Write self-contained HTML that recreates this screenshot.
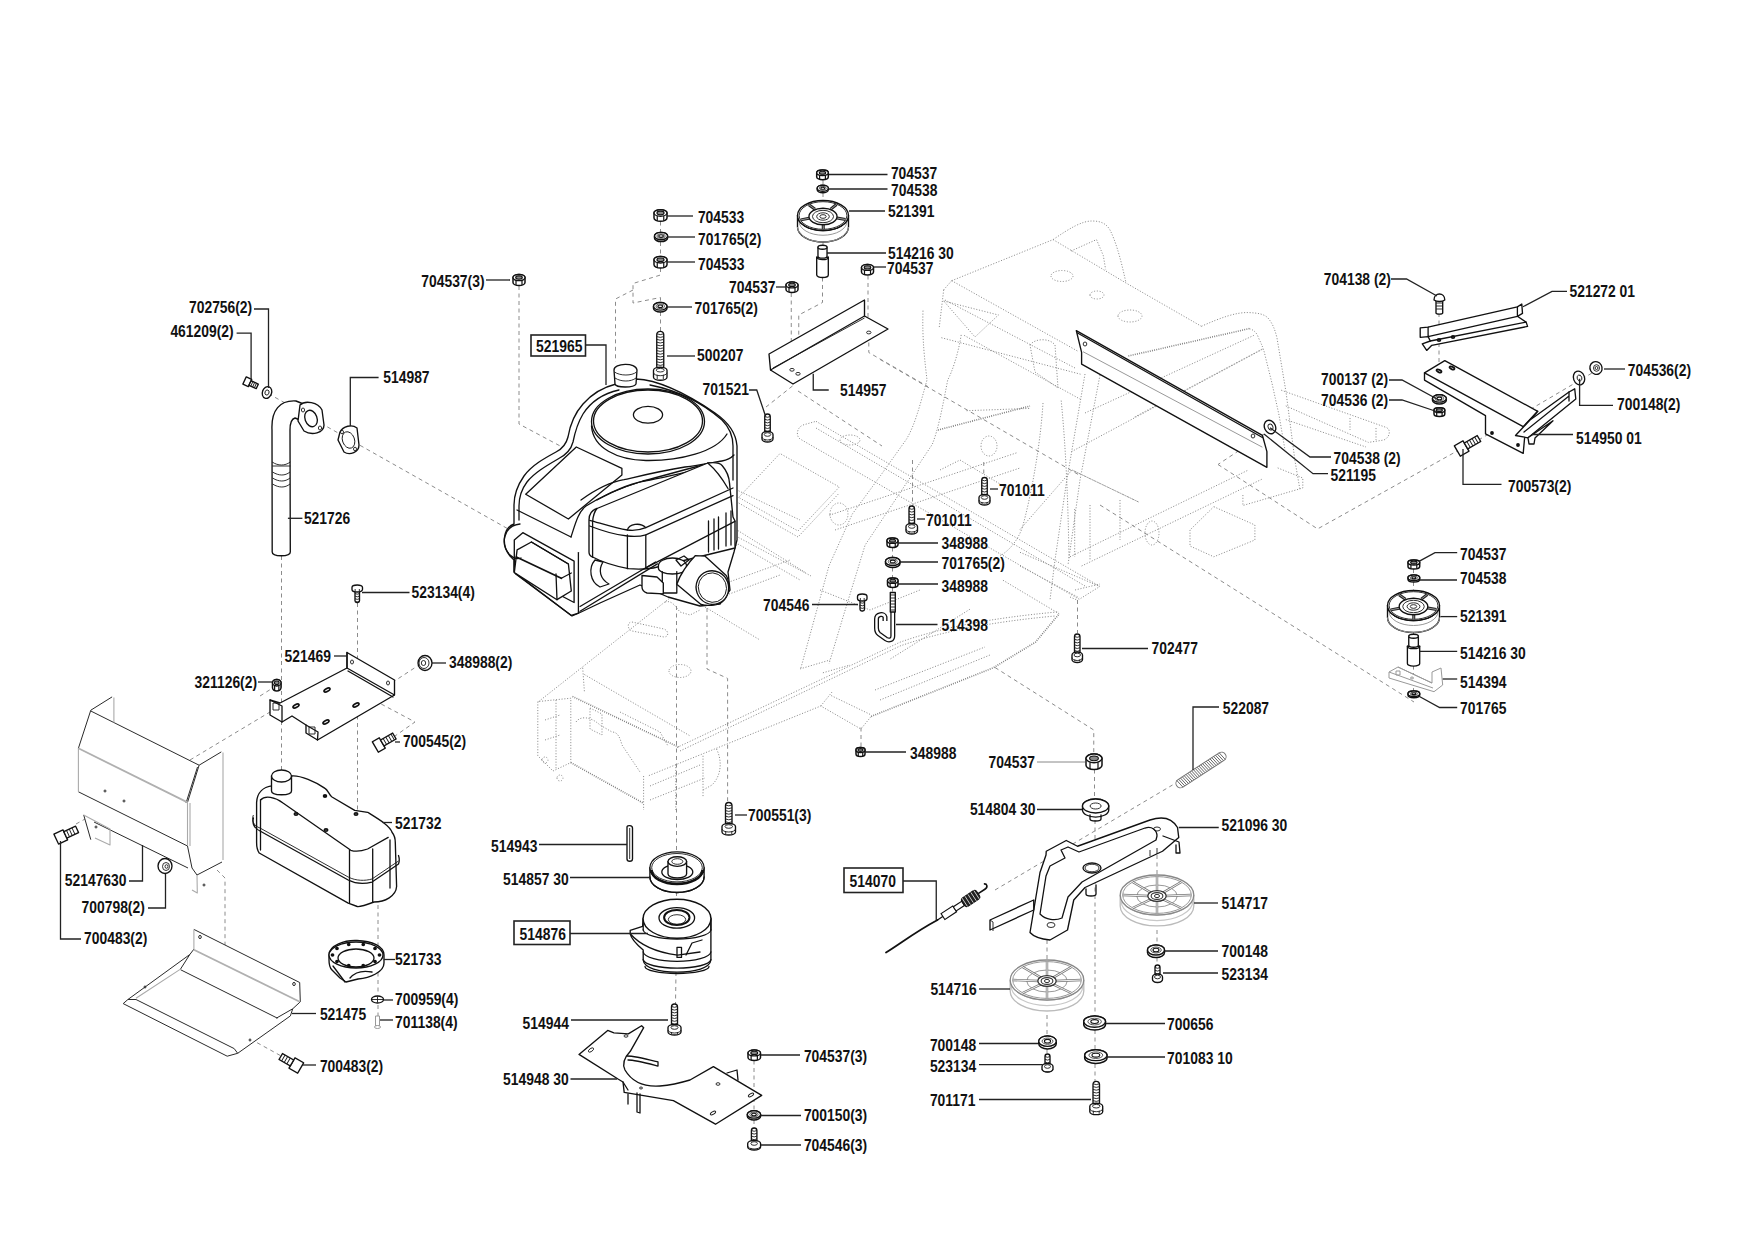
<!DOCTYPE html>
<html><head><meta charset="utf-8"><title>Parts diagram</title>
<style>
html,body{margin:0;padding:0;background:#fff;}
svg{display:block}
text{font-family:"Liberation Sans",sans-serif;font-weight:bold;font-size:16.8px;fill:#111;}
.ld{fill:none;stroke:#222;stroke-width:1.3;}
.lg{fill:none;stroke:#888;stroke-width:1;}
.ds{fill:none;stroke:#8c8c8c;stroke-width:1;stroke-dasharray:4 3.5;}
.fr{fill:none;stroke:#8e8e8e;stroke-width:1;stroke-dasharray:1.1 1.7;}
.frh{fill:none;stroke:#7a7a7a;stroke-width:1.6;stroke-dasharray:0.9 1.3;}
.fr2{fill:none;stroke:#c4c4c4;stroke-width:1;stroke-dasharray:1.5 1.5;}
.bx{fill:none;stroke:#222;stroke-width:1.6;}
.pt{fill:#fff;stroke:#111;stroke-width:1.35;stroke-linejoin:round;}
.pn{fill:none;stroke:#111;stroke-width:1.3;stroke-linejoin:round;stroke-linecap:round;}
.pk{fill:none;stroke:#111;stroke-width:1.8;stroke-linejoin:round;stroke-linecap:round;}
.th{fill:none;stroke:#1a1a1a;stroke-width:0.9;}
.tl{fill:none;stroke:#555;stroke-width:0.8;}
.gy{fill:#fff;stroke:#999;stroke-width:1;}
.hsf{fill:#fff;stroke:none;}
.hs{fill:none;stroke:#2a2a2a;stroke-width:1;}
.hg{fill:none;stroke:#b0b0b0;stroke-width:1.8;}
.hl{fill:none;stroke:#aaa;stroke-width:1.1;}
.gn{fill:none;stroke:#999;stroke-width:1;}
</style></head><body>
<svg width="1754" height="1240" viewBox="0 0 1754 1240">

<rect width="1754" height="1240" fill="#fff"/>
<g>
<path d="M951.7,280.7 L1053.1,239.6" class="fr"/>
<path d="M1053.1,239.6 C1070,228 1082,221 1092,221 C1100,221 1106,223 1110,230 C1115,240 1120,255 1126,283" class="fr"/>
<path d="M1071,251 L1096.5,239.6 L1103.3,255.6 L1105.6,269.3" class="fr"/>
<path d="M1053.1,239.6 L1126,283 L1201.4,326.3" class="fr"/>
<path d="M951.7,280.7 L1078.2,351.4" class="fr"/>
<path d="M943.7,289.8 L951.7,280.7 M943.7,289.8 L939.1,328.6" class="fr"/>
<path d="M941.4,337.7 L1080.5,374.2" class="fr"/>
<path d="M964.2,335.4 L1080.5,399.3" class="fr"/>
<path d="M945,300 L1075,368" class="fr"/>
<path d="M1062,276 m-11,0 a11,5.5 0 1 0 22,0 a11,5.5 0 1 0 -22,0" class="fr"/>
<path d="M1097,295 m-7,0 a7,4 0 1 0 14,0 a7,4 0 1 0 -14,0" class="fr"/>
<path d="M1130,316 m-12,0 a12,6 0 1 0 24,0 a12,6 0 1 0 -24,0" class="fr"/>
<path d="M1201.4,326.3 C1220,318 1236,312 1249,312.6 C1258,313 1264,314 1268,318 C1273,324 1275,330 1277,338 L1286,392 L1295,461 L1300,490" class="fr"/>
<path d="M1128.4,356 L1249.3,328.6" class="frh"/>
<path d="M1249.3,328.6 C1254,330 1257,333 1258.4,337.7 C1262,345 1264,350 1265.2,356 L1272,383.3 L1279,415 L1285,450" class="fr"/>
<path d="M1085,413 L1253.8,335.4" class="fr"/>
<path d="M1071.4,451.7 L1263,349" class="fr"/>
<path d="M1261.7,349.3 L1133.9,417.4" class="fr"/>
<path d="M938,430 L1030,406" class="frh"/>
<path d="M1242.9,495 L1242.9,505.5 L1277.7,495.3" class="fr"/>
<path d="M1281.2,390.2 L1386.6,427.6 C1391,430 1390,437 1384,440 L1368.4,442.4 M1285.8,405.9 L1368.4,442.4 M1285.8,419.6 L1366,447 M1376,428 L1376,440 M1350,418 L1350,430" class="fr"/>
<path d="M943.7,301 L998.4,315 L975,337 Z" class="fr"/>
<path d="M1030,345 C1035,338 1050,338 1055,345 L1058,388 L1035,372 Z" class="fr"/>
<path d="M923,310.6 C922,340 925,362 927,380 C920,405 915,425 906.4,439.3 L880.6,475.5 L852.2,514.2 L829,565.8 L800.6,669" class="fr"/>
<path d="M961.2,334.9 C958,355 952,372 947.7,380 C942,410 938,430 932.2,444.5 L901.2,491 L865.1,545.1 L844.5,612.2 L829,663.8" class="fr"/>
<path d="M738.7,497.4 L780,453.5 L839.3,487 L798,531 Z" class="fr"/>
<path d="M738.7,503 L798,537 L839.3,493" class="fr"/>
<path d="M1061.2,400.6 C1066,450 1068,500 1069,558" class="fr"/>
<path d="M1043,403 C1040,450 1030,500 1022.5,527 C1018,540 1010,550 1000,556" class="fr"/>
<path d="M839,514 m-9,0 a9,11 0 1 0 18,0 a9,11 0 1 0 -18,0" class="fr"/>
<path d="M733.5,534.8 L811,576 M705,607 L760,640" class="fr"/>
<path d="M733.5,488.4 L800,520" class="fr"/>
<path d="M1085,374 L1066.8,480 L1055,560 L1050,600" class="fr"/>
<path d="M1100,375 L1080,480 L1068,565" class="fr"/>
<path d="M829.4,515.2 L1016.7,452.8" class="fr"/>
<path d="M835,530 L1020,468" class="fr"/>
<path d="M966.5,410.7 L1030.3,408.4" class="fr"/>
<path d="M989,446 m-8,0 a8,10 0 1 0 16,0 a8,10 0 1 0 -16,0" class="fr"/>
<path d="M816,421.3 L1099.9,586.4 L1079.3,599.3 L800.6,439.3 C796,437 796,428 803,425 L816,421.3" class="fr"/>
<path d="M816,428 L1085,586" class="fr"/>
<path d="M1075,590 L1100,584 M1070,597 L1077,600" class="fr"/>
<path d="M1070,556.8 L1248,470.2" class="fr"/>
<path d="M1081.6,566 L1261.7,479.3" class="fr"/>
<path d="M1020,529.5 L1072,470 L1138.6,502" class="fr"/>
<path d="M1072.5,470.2 L1138.6,502" class="fr"/>
<path d="M1152,533 m-7,0 a7,12 0 1 0 14,0 a7,12 0 1 0 -14,0" class="fr"/>
<path d="M1213.8,506.7 L1254.9,525 L1254.9,540 L1213.8,556.8 L1190,546 L1190,530 Z" class="fr"/>
<path d="M1277.7,467.9 L1302.8,478 L1302.8,488 L1277.7,495.3" class="fr"/>
<path d="M1020,552.3 L1099.8,586.5 M1020,566 L1079.3,597.9" class="fr"/>
<path d="M1074.7,509 L1074.7,557" class="fr"/>
<path d="M1090,505 L1090,560 M1120,500 L1120,540" class="fr"/>
<path d="M538.6,701.6 L667.4,600 L738,544" class="fr"/>
<path d="M735.4,529 L805.5,572.6" class="fr"/>
<path d="M738,544 L800,580" class="fr"/>
<path d="M572.5,696.5 L679.2,747.4" class="frh"/>
<path d="M584.4,674.5 L689.4,735.5" class="fr"/>
<path d="M582.7,667.8 L584.4,691.5" class="fr"/>
<path d="M632,622 L664,629 C669,631 669,637 664,637 L632,631 C627,629 627,622 632,622 Z" class="fr"/>
<path d="M665,602 C672,600 675,606 680,612 L690,615 L700,610" class="fr"/>
<path d="M680,671 m-11,0 a11,6.5 0 1 0 22,0 a11,6.5 0 1 0 -22,0" class="fr"/>
<path d="M707,590 L790,560 M700,605 L780,575" class="fr"/>
<path d="M677,747.5 L900,642.2 C940,628 990,618 1059,611.8" class="fr"/>
<path d="M680,751 L900,646 C940,632 990,622 1055,616" class="fr"/>
<path d="M648.9,775.6 L820.8,706 L860.9,729 L871.2,716.4" class="fr"/>
<path d="M871.2,716.4 L993.5,667.7 L1035.5,642.1 L1059.2,613.8" class="frh"/>
<path d="M820.8,706 L832.7,691.2 M831.2,695.6 L871.2,714.9" class="fr"/>
<path d="M1059.2,613.8 L1002.6,580 M969.8,609.3 L889.5,659.5" class="fr"/>
<path d="M800.1,668.9 L830,660 M822.9,672.8 L850,665" class="fr"/>
<path d="M880,700 L990,655 M875,690 L985,647" class="fr"/>
<path d="M537.8,701.6 L537.8,755.8 L553,771 L570.8,762.6 L570.8,698.2 Z" class="fr"/>
<path d="M570.8,762.6 L643.6,803.3" class="frh"/>
<path d="M643.6,776 L643.6,810 M675.8,764.3 L675.8,810 M703,755.8 L703,796.5" class="fr"/>
<path d="M716.5,749 C722,760 722,775 712,785 L703,790" class="fr"/>
<path d="M576,722 C580,716 590,716 600,725 L612,732 C618,732 620,738 622,745 L632,760 L640,772" class="fr"/>
<path d="M590,708 L602,714 L602,735 L590,729 Z" class="fr"/>
<path d="M620,712 L660,732 L668,746" class="fr"/>
<path d="M545,720 L560,715 M545,740 L560,735" class="fr"/>
<path d="M556,700 L556,770 M650,786 L700,765 M650,800 L705,778" class="fr"/>
<path d="M545,760 m-3,0 a3,3 0 1 0 6,0 a3,3 0 1 0 -6,0 M560,778 m-3,0 a3,3 0 1 0 6,0 a3,3 0 1 0 -6,0" class="fr"/>
<path d="M850,440 m-10,0 a10,5 0 1 0 20,0 a10,5 0 1 0 -20,0" class="fr"/>
<path d="M820,590 L870,610 L920,590" class="fr"/>
<path d="M940,470 L960,460 L1010,490" class="fr"/>
</g>
<g>
<polyline points="262,390 510,530" class="ds"/>
<polyline points="281.5,556 281.5,770" class="ds"/>
<polyline points="357.5,603 357.5,817" class="ds"/>
<polyline points="378,905 378,994" class="ds"/>
<polyline points="378,1005 378,1016" class="ds"/>
<polyline points="217,870 225,878 225,1025 283,1057" class="ds"/>
<polyline points="190,760 270,712" class="ds"/>
<polyline points="260,696 273.5,687.5" class="ds"/>
<polyline points="76,824 115,802.5" class="ds"/>
<polyline points="367,699 417.5,666" class="ds"/>
<polyline points="368,697 415,722 395,736" class="ds"/>
<polyline points="519,286 519,424 563,447.5" class="ds"/>
<polyline points="660.5,221.5 660.5,232" class="ds"/>
<polyline points="660.5,242 660.5,256" class="ds"/>
<polyline points="660.5,268 660.5,275 633,283.5 633,303 660.5,297.5 660.5,302" class="ds"/>
<polyline points="633,290 615.5,299 615.5,362" class="ds"/>
<polyline points="660.5,312 660.5,331" class="ds"/>
<polyline points="823,180 823,185" class="ds"/>
<polyline points="823,193 823,200" class="ds"/>
<polyline points="823,242 823,245" class="ds"/>
<polyline points="822.5,277.5 822.5,302.5 798.75,315 798.75,370" class="ds"/>
<polyline points="791.25,293 791.25,370" class="ds"/>
<polyline points="868,275.5 868,330" class="ds"/>
<polyline points="792.5,386 766,407" class="ds"/>
<polyline points="798,391 882,446" class="ds"/>
<polyline points="868.8,335 868.8,352.5 928,386.7" class="ds"/>
<polyline points="912.5,460 912.5,506" class="ds"/>
<polyline points="983.75,462 983.75,477.5" class="ds"/>
<polyline points="892.5,547.5 892.5,557" class="ds"/>
<polyline points="892.5,567.5 892.5,578" class="ds"/>
<polyline points="892.5,587.5 892.5,593" class="ds"/>
<polyline points="1077.5,600 1077.5,633" class="ds"/>
<polyline points="861,727.5 861,747.5" class="ds"/>
<polyline points="995,667.5 1093.75,730 1093.75,754" class="ds"/>
<polyline points="1094.5,769.5 1094.5,799" class="ds"/>
<polyline points="1095,820 1095,1016" class="ds"/>
<polyline points="1095,1030 1095,1050" class="ds"/>
<polyline points="1095,1064 1095,1081" class="ds"/>
<polyline points="1047,940 1047,960" class="ds"/>
<polyline points="1047,1015 1047,1036" class="ds"/>
<polyline points="1047,1049 1047,1054" class="ds"/>
<polyline points="1157,855 1157,875" class="ds"/>
<polyline points="1157,930 1157,945" class="ds"/>
<polyline points="1157,957.5 1157,965" class="ds"/>
<polyline points="995,890 1172.5,785" class="ds"/>
<polyline points="676.5,606 676.5,852" class="ds"/>
<polyline points="676.5,892 676.5,900" class="ds"/>
<polyline points="676,972 675.5,1004" class="ds"/>
<polyline points="754,1060.5 754,1110.8" class="ds"/>
<polyline points="754,1120 754,1128" class="ds"/>
<polyline points="1439,313 1439,366.5" class="ds"/>
<polyline points="1478.5,440 1598,369.5" class="ds"/>
<polyline points="1218,464.5 1317.6,528.9 1463,447.7" class="ds"/>
<polyline points="1100,505 1414,702" class="ds"/>
<polyline points="880,359.4 1080,475.5" class="ds"/>
<polyline points="1413.5,569 1413.5,575" class="ds"/>
<polyline points="1413.5,582 1413.5,590" class="ds"/>
<polyline points="1413.5,632 1413.5,634.2" class="ds"/>
<polyline points="1413.5,665.6 1413.5,691" class="ds"/>
<polyline points="1264,434 1218,464.5" class="ds"/>
<polyline points="707,608 707,669 727.6,678.4 727.6,802" class="ds"/>
</g>
<g>
<path d="M616,384 C600,388 590,396 583,404 C575,413 570,425 568,437 C566,445 562,449 556,452 C545,458 532,465 524,476 C517,486 514,495 514,505 L514,524 C503,528 501,545 510,556 L514,560 L514,572 L572,616 L579,613 L600,603 L640,585 L668,597 L700,606 L720,604 L730,590 L728,572 L734,552 L737,540 L737,446 C736,432 728,422 715,413 C690,396 660,380 636,379 Z" class="pt"/>
<path d="M619,390 C601,394 590,403 583,414 C577,424 575,432 573,442 C571,450 566,455 558,459 C546,466 534,473 527,482 C521,490 519,498 519,506 L519,520" class="pn"/>
<path d="M650,385 C680,391 705,405 722,420 C730,428 733,436 733,446 L733,480" class="pn"/>
<ellipse cx="648" cy="421.5" rx="56.5" ry="32.5" class="pn"/>
<ellipse cx="648" cy="421" rx="54.5" ry="31" class="pn"/>
<ellipse cx="648" cy="414.8" rx="14.6" ry="8.4" class="pn"/>
<path d="M591.5,426 C593,448 617,460 646,460.5 C680,461 716,452 727,434" class="pn"/>
<path d="M581,500 C595,490 610,482 624,479.7 C640,476 660,471 685,467 C700,465 712,462.6 722,461 C728,460 732,457 734,455" class="pn"/>
<path d="M597,500 C615,490 635,482 650,480 C670,476 695,470 711,467" class="pn"/>
<path d="M525.7,494.2 L576.3,447 L621.9,468.3 L621.9,475 L568.4,519 Z" class="pn"/>
<path d="M517,510 L571,537" class="pn"/>
<path d="M571,537 C575,525 578,512 586,506 C600,497 620,488 643,481 C670,474 690,468 711,463" class="pn"/>
<path d="M589,520 C589,514 592,510 597,508.5 L707.8,463 C716,462 720,463 722.3,465.7 C726,470 729,476 729.5,483 L733,517 L735,521 L735,548 L657.4,567 C650,569 640,569.5 628.4,568.7 C615,566 600,561 592.6,557 C590,556 589,554 589,552 Z" class="pt"/>
<path d="M589.7,520.3 C600,523 615,528 627.4,530 C635,531 640,530 645.8,527.6 L733,488" class="pn"/>
<path d="M589.7,526 C600,530 615,535 627.4,536 C637,537 642,536 645.8,534.8 L733,495.6" class="pn"/>
<path d="M627.4,530 C629,524 640,522 645.8,527.6" class="pn"/>
<path d="M627.4,534.8 L627.4,568.7 M645.8,534.8 L645.8,567.8" class="pn"/>
<path d="M597,508.5 C594,512 593,516 592.6,522 L592.6,557" class="pn"/>
<path d="M707.8,463 C716,470 722,478 728,488.5" class="pn"/>
<path d="M645.8,567.8 L734.9,521.3" class="pn"/>
<path d="M708.5,521 L708.5,552 M714,519 L714,550 M718.5,517 L718.5,549 M726,513 L726,546 M731,511 L731,545" class="pn"/>
<path d="M580,606.5 L655.5,562 M580,611.3 L657.4,563.9" class="pn"/>
<path d="M658.4,565.8 A14,7.8 0 0 1 686.5,565.8 L686.5,568 A14,6 0 0 1 658.4,568 Z" class="pt"/>
<path d="M662.3,571.6 L662.3,593 L676.8,593 L676.8,571.6" class="pn"/>
<path d="M642,575.5 L657,577 L663.3,583 L663.3,593.9 L647,593 C644,592 642,590 642,587 Z" class="pt"/>
<path d="M676,560 L684,556 L689,560 L681,566 Z" class="pn"/>
<path d="M695.2,555.7 L704.9,556.1 L726.2,575.5 C730,582 730,596 722,602 C716,606 707,606 701,604.5 L676.8,584.2 C680,575 688,563 695.2,555.7 Z" class="pt"/>
<ellipse cx="712.4" cy="587.6" rx="16.2" ry="16.9" class="pt" transform="rotate(-20 712.4 587.6)"/>
<ellipse cx="712.4" cy="587.6" rx="14" ry="14.8" class="th" transform="rotate(-20 712.4 587.6)"/>
<path d="M595,560 C588,568 590,582 600,587 L609,584 C600,579 598,570 603,562 Z" class="pn"/>
<path d="M522.8,532.7 L574.1,561.2 L574.1,602.5 L514.3,571.2 L514.3,540 Z" class="pt"/>
<path d="M517.1,549.8 L531.4,542 L568.4,564 L571.3,591 L557,599.7 L514.3,572.6 Z" class="pt"/>
<path d="M516.4,557 L561.3,578.3" class="pk"/>
<path d="M531.4,542 L568.4,564 M556,574 L557,599.7 M561.3,578.3 L571.3,573" class="pn"/>
<path d="M520,524 C503,526 500,545 510,555 C514,559 518,559 521,558" class="pn"/>
<path d="M515.7,574 L571.3,615.4 L578.4,613.2" class="pn"/>
<path d="M578.4,552.6 L578.4,612.5" class="pn"/>
<path d="M614,370 C614,363 636,362 637,370 L636,384 C634,388 616,388 615,384 Z" class="pt"/>
<path d="M614.5,372 C620,376 632,376 636.5,372 M615,378 C621,382 631,382 636,378" class="th"/>
</g>
<path d="M816.7,172.716 A5.7999999999999545,2.715999999999997 0 0 1 828.3,172.716 L828.3,176.98399999999998 A5.7999999999999545,2.715999999999997 0 0 1 816.7,176.98399999999998 Z" fill="#fff" stroke="#111" stroke-width="1.5"/>
<ellipse cx="822.5" cy="172.716" rx="5.7999999999999545" ry="2.715999999999997" fill="#fff" stroke="#111" stroke-width="1.4"/>
<ellipse cx="822.5" cy="172.716" rx="3.189999999999975" ry="1.4937999999999985" fill="#888" stroke="#111" stroke-width="1.1"/>
<path d="M819.6,175.1604 V179.2 M825.4,175.1604 V179.2" stroke="#111" stroke-width="1.2"/>
<path d="M817.2,188.24 A5.5499999999999545,3.0400000000000094 0 0 1 828.3,188.24 L828.3,189.76 A5.5499999999999545,3.0400000000000094 0 0 1 817.2,189.76 Z" fill="#fff" stroke="#111" stroke-width="1.5"/>
<ellipse cx="822.75" cy="188.24" rx="5.5499999999999545" ry="3.0400000000000094" fill="#fff" stroke="#111" stroke-width="1.4"/>
<ellipse cx="822.75" cy="188.24" rx="3.440999999999972" ry="1.8240000000000056" fill="none" stroke="#555" stroke-width="1"/>
<ellipse cx="822.75" cy="188.24" rx="1.942499999999984" ry="1.0640000000000032" fill="#fff" stroke="#111" stroke-width="1.1"/>
<path d="M797.5,215.5 A25.5,15 0 0 0 848.5,215.5 L848.5,227.0 A25.5,15 0 0 1 797.5,227.0 Z" class="pt"/>
<path d="M799.0,221.25 A24.0,14 0 0 0 847.0,221.25" class="gn"/>
<path d="M797.5,227.0 A25.5,15 0 0 0 848.5,227.0" class="gn"/>
<ellipse cx="823" cy="215.5" rx="25.5" ry="15" class="pt"/>
<ellipse cx="823" cy="215.5" rx="23.9" ry="13.8" class="th"/>
<line x1="835.7" y1="217.8" x2="845.5" y2="219.5" stroke="#222" stroke-width="3"/>
<line x1="835.7" y1="217.8" x2="845.5" y2="219.5" stroke="#999" stroke-width="1"/>
<line x1="823.2" y1="223.3" x2="823.3" y2="229.0" stroke="#222" stroke-width="3"/>
<line x1="823.2" y1="223.3" x2="823.3" y2="229.0" stroke="#999" stroke-width="1"/>
<line x1="810.4" y1="218.0" x2="800.8" y2="219.9" stroke="#222" stroke-width="3"/>
<line x1="810.4" y1="218.0" x2="800.8" y2="219.9" stroke="#999" stroke-width="1"/>
<line x1="815.0" y1="209.2" x2="808.9" y2="204.7" stroke="#222" stroke-width="3"/>
<line x1="815.0" y1="209.2" x2="808.9" y2="204.7" stroke="#999" stroke-width="1"/>
<line x1="830.7" y1="209.1" x2="836.5" y2="204.5" stroke="#222" stroke-width="3"/>
<line x1="830.7" y1="209.1" x2="836.5" y2="204.5" stroke="#999" stroke-width="1"/>
<ellipse cx="823" cy="216.5" rx="14.025" ry="8.25" class="pt"/>
<ellipse cx="823" cy="216.5" rx="10.51875" ry="6.1875" class="th"/>
<ellipse cx="823" cy="216.5" rx="6.31125" ry="3.7125" class="th"/>
<ellipse cx="823" cy="216.5" rx="3.155625" ry="1.85625" class="th"/>
<path d="M816.7,257.2 L816.7,275 A5.7999999999999545,2.5 0 0 0 828.3,275 L828.3,257.2 Z" class="pt"/>
<path d="M817.976,247.2 L817.976,256.2 A4.5239999999999645,2 0 0 0 827.024,256.2 L827.024,247.2 Z" class="pt"/>
<ellipse cx="822.5" cy="247.2" rx="4.5239999999999645" ry="2" class="pt"/>
<path d="M816.7,257.2 A5.7999999999999545,2.5 0 0 0 828.3,257.2" class="pn"/>
<path d="M861.5,267.44 A6.0,2.9400000000000004 0 0 1 873.5,267.44 L873.5,272.06 A6.0,2.9400000000000004 0 0 1 861.5,272.06 Z" fill="#fff" stroke="#111" stroke-width="1.5"/>
<ellipse cx="867.5" cy="267.44" rx="6.0" ry="2.9400000000000004" fill="#fff" stroke="#111" stroke-width="1.4"/>
<ellipse cx="867.5" cy="267.44" rx="3.3000000000000003" ry="1.6170000000000004" fill="#888" stroke="#111" stroke-width="1.1"/>
<path d="M864.5,270.086 V274.5 M870.5,270.086 V274.5" stroke="#111" stroke-width="1.2"/>
<path d="M654,212.948 A6.5,3.248000000000007 0 0 1 667,212.948 L667,218.052 A6.5,3.248000000000007 0 0 1 654,218.052 Z" fill="#fff" stroke="#111" stroke-width="1.5"/>
<ellipse cx="660.5" cy="212.948" rx="6.5" ry="3.248000000000007" fill="#fff" stroke="#111" stroke-width="1.4"/>
<ellipse cx="660.5" cy="212.948" rx="3.575" ry="1.786400000000004" fill="#888" stroke="#111" stroke-width="1.1"/>
<path d="M657.25,215.87120000000002 V220.8 M663.75,215.87120000000002 V220.8" stroke="#111" stroke-width="1.2"/>
<path d="M654.5,236.08 A6.550000000000011,3.6799999999999957 0 0 1 667.6,236.08 L667.6,237.92 A6.550000000000011,3.6799999999999957 0 0 1 654.5,237.92 Z" fill="#fff" stroke="#111" stroke-width="1.5"/>
<ellipse cx="661.05" cy="236.08" rx="6.550000000000011" ry="3.6799999999999957" fill="#fff" stroke="#111" stroke-width="1.4"/>
<ellipse cx="661.05" cy="236.08" rx="4.061000000000007" ry="2.2079999999999975" fill="none" stroke="#555" stroke-width="1"/>
<ellipse cx="661.05" cy="236.08" rx="2.292500000000004" ry="1.2879999999999985" fill="#fff" stroke="#111" stroke-width="1.1"/>
<path d="M654,259.72 A6.5,3.22 0 0 1 667,259.72 L667,264.78 A6.5,3.22 0 0 1 654,264.78 Z" fill="#fff" stroke="#111" stroke-width="1.5"/>
<ellipse cx="660.5" cy="259.72" rx="6.5" ry="3.22" fill="#fff" stroke="#111" stroke-width="1.4"/>
<ellipse cx="660.5" cy="259.72" rx="3.575" ry="1.7710000000000004" fill="#888" stroke="#111" stroke-width="1.1"/>
<path d="M657.25,262.61800000000005 V267.5 M663.75,262.61800000000005 V267.5" stroke="#111" stroke-width="1.2"/>
<path d="M513,277.58 A6.0,3.08 0 0 1 525,277.58 L525,282.42 A6.0,3.08 0 0 1 513,282.42 Z" fill="#fff" stroke="#111" stroke-width="1.5"/>
<ellipse cx="519.0" cy="277.58" rx="6.0" ry="3.08" fill="#fff" stroke="#111" stroke-width="1.4"/>
<ellipse cx="519.0" cy="277.58" rx="3.3000000000000003" ry="1.6940000000000002" fill="#888" stroke="#111" stroke-width="1.1"/>
<path d="M516.0,280.352 V285.0 M522.0,280.352 V285.0" stroke="#111" stroke-width="1.2"/>
<path d="M786,284.94 A6.0,2.9400000000000004 0 0 1 798,284.94 L798,289.56 A6.0,2.9400000000000004 0 0 1 786,289.56 Z" fill="#fff" stroke="#111" stroke-width="1.5"/>
<ellipse cx="792.0" cy="284.94" rx="6.0" ry="2.9400000000000004" fill="#fff" stroke="#111" stroke-width="1.4"/>
<ellipse cx="792.0" cy="284.94" rx="3.3000000000000003" ry="1.6170000000000004" fill="#888" stroke="#111" stroke-width="1.1"/>
<path d="M789.0,287.586 V292.0 M795.0,287.586 V292.0" stroke="#111" stroke-width="1.2"/>
<path d="M653.5,306.3 A6.75,3.8000000000000003 0 0 1 667,306.3 L667,308.2 A6.75,3.8000000000000003 0 0 1 653.5,308.2 Z" fill="#fff" stroke="#111" stroke-width="1.5"/>
<ellipse cx="660.25" cy="306.3" rx="6.75" ry="3.8000000000000003" fill="#fff" stroke="#111" stroke-width="1.4"/>
<ellipse cx="660.25" cy="306.3" rx="4.185" ry="2.2800000000000002" fill="none" stroke="#555" stroke-width="1"/>
<ellipse cx="660.25" cy="306.3" rx="2.3625" ry="1.33" fill="#fff" stroke="#111" stroke-width="1.1"/>
<rect x="656.75" y="331.3" width="7" height="38.39999999999998" rx="3.5" class="pt"/><path d="M656.75,333.8 Q660.25,335.40000000000003 663.75,333.8" class="th"/><path d="M656.75,336.6 Q660.25,338.20000000000005 663.75,336.6" class="th"/><path d="M656.75,339.40000000000003 Q660.25,341.00000000000006 663.75,339.40000000000003" class="th"/><path d="M656.75,342.20000000000005 Q660.25,343.80000000000007 663.75,342.20000000000005" class="th"/><path d="M656.75,345.00000000000006 Q660.25,346.6000000000001 663.75,345.00000000000006" class="th"/><path d="M656.75,347.80000000000007 Q660.25,349.4000000000001 663.75,347.80000000000007" class="th"/><path d="M656.75,350.6000000000001 Q660.25,352.2000000000001 663.75,350.6000000000001" class="th"/><path d="M656.75,353.4000000000001 Q660.25,355.0000000000001 663.75,353.4000000000001" class="th"/><path d="M656.75,356.2000000000001 Q660.25,357.8000000000001 663.75,356.2000000000001" class="th"/><path d="M656.75,359.0000000000001 Q660.25,360.60000000000014 663.75,359.0000000000001" class="th"/><path d="M656.75,361.8000000000001 Q660.25,363.40000000000015 663.75,361.8000000000001" class="th"/><path d="M656.75,364.60000000000014 Q660.25,366.20000000000016 663.75,364.60000000000014" class="th"/><path d="M656.75,367.40000000000015 Q660.25,369.00000000000017 663.75,367.40000000000015" class="th"/><path d="M653.5,370.2 A6.75,3 0 0 1 667.0,370.2 L667.0,377.2 A6.75,3 0 0 1 653.5,377.2 Z" class="pt"/><path d="M653.5,372.7 A6.75,3 0 0 0 667.0,372.7" class="th"/><path d="M657.2125,374.7 V379.2 M663.2875,374.7 V379.2" class="th"/><ellipse cx="660.25" cy="370.2" rx="4.0" ry="1.8" class="th"/>
<rect x="764.75" y="414" width="5.5" height="20" rx="2.75" class="pt"/><path d="M764.75,416.5 Q767.5,418.1 770.25,416.5" class="th"/><path d="M764.75,419.3 Q767.5,420.90000000000003 770.25,419.3" class="th"/><path d="M764.75,422.1 Q767.5,423.70000000000005 770.25,422.1" class="th"/><path d="M764.75,424.90000000000003 Q767.5,426.50000000000006 770.25,424.90000000000003" class="th"/><path d="M764.75,427.70000000000005 Q767.5,429.30000000000007 770.25,427.70000000000005" class="th"/><path d="M764.75,430.50000000000006 Q767.5,432.1000000000001 770.25,430.50000000000006" class="th"/><path d="M762.0,434.5 A5.5,3 0 0 1 773.0,434.5 L773.0,439 A5.5,3 0 0 1 762.0,439 Z" class="pt"/><path d="M762.0,437 A5.5,3 0 0 0 773.0,437" class="th"/><path d="M765.025,439 V441 M769.975,439 V441" class="th"/><ellipse cx="767.5" cy="434.5" rx="3.25" ry="1.8" class="th"/>
<path d="M769,354 L864.5,300 L864.5,316 L888,329 L793,384 L770.5,370 Z" class="pt"/>
<path d="M770.5,370 L864.5,316" class="pn"/>
<path d="M773,368 L864.5,318" class="th"/>
<ellipse cx="792" cy="369.8" rx="2.2" ry="1.4" class="th"/>
<ellipse cx="798" cy="373.8" rx="2.2" ry="1.4" class="th"/>
<ellipse cx="868.8" cy="332.5" rx="2.2" ry="1.4" class="th"/>
<path d="M272,430 C271,410 280,400 296,401 L306,405 L300,420 L295,418 C291,419 290,424 290,430 L290.3,552 C290.3,557 272.2,557 272.2,552 Z" class="pt"/>
<path d="M272.2,466 L290.3,466 M272.5,472 C279,476 285,476 290,472 M272.5,478 C279,482 285,482 290,478 M272.5,484 C279,488 285,488 290,484" class="th"/>
<path d="M272.2,462 C278,466 285,466 290.3,462" class="th"/>
<path d="M300,405 C305,400 318,402 322,410 L324,425 C324,433 312,436 304,431 L298,421 Z" class="pt"/>
<ellipse cx="311" cy="418.5" rx="6" ry="8.5" class="pt" transform="rotate(-20 311 418.5)"/>
<ellipse cx="303" cy="410" rx="1.6" ry="2" class="th"/>
<ellipse cx="320" cy="428" rx="1.6" ry="2" class="th"/>
<g transform="rotate(25 250 383)">
<path d="M244,379 L250,379 L250,387 L244,387 Z" class="pt"/>
<path d="M250,380.5 L258,380.5 L258,385.5 L250,385.5 Z" class="pt"/>
<path d="M252,380.5 V385.5 M254,380.5 V385.5 M256,380.5 V385.5" class="th"/>
</g>
<ellipse cx="267" cy="392.5" rx="4.6" ry="6" class="pt" transform="rotate(20 267 392.5)"/>
<ellipse cx="267" cy="392.5" rx="2" ry="2.6" class="th" transform="rotate(20 267 392.5)"/>
<path d="M340,432 C343,426 352,424 357,428 L359,445 C359,452 350,456 344,452 L338,440 Z" class="pt"/>
<ellipse cx="348.5" cy="440" rx="6" ry="8.5" class="th" transform="rotate(-20 348.5 440)"/>
<ellipse cx="342" cy="432" rx="1.5" ry="1.8" class="th"/>
<ellipse cx="355" cy="449" rx="1.5" ry="1.8" class="th"/>
<rect x="355.0" y="590.5" width="4.5" height="12.0" rx="1.8" class="pt"/><path d="M355.0,593.5 Q357.25,594.9 359.5,593.5" class="th"/><path d="M355.0,596.1 Q357.25,597.5 359.5,596.1" class="th"/><path d="M355.0,598.7 Q357.25,600.1 359.5,598.7" class="th"/><path d="M355.0,601.3000000000001 Q357.25,602.7 359.5,601.3000000000001" class="th"/><path d="M352.0,587.5 A5.25,2.5 0 0 1 362.5,587.5 L362.5,589.5 A5.25,2.5 0 0 1 352.0,589.5 Z" class="pt"/><path d="M355.15,589 V591.5 M359.35,589 V591.5" class="th"/>
<path d="M347,652.5 L394.5,680 L394.5,695 L317.5,740 L306,733 L306,725 L292,716 L282,722 L270,715 L270,700 L280,703 L347,668 Z" class="pt"/>
<path d="M347,652.5 L347,668 M347,668 L394.5,695 M348,671 L393,697" class="pn"/>
<path d="M270,700 L282,706 L282,722 M306,725 L318,732 L317.5,740" class="pn"/>
<ellipse cx="352" cy="662" rx="1.5" ry="2" class="th"/>
<ellipse cx="388" cy="683" rx="1.5" ry="2" class="th"/>
<ellipse cx="327" cy="690" rx="3.2" ry="1.5" class="pk" transform="rotate(-28 327 690)"/>
<ellipse cx="356" cy="705" rx="3.2" ry="1.5" class="pk" transform="rotate(-28 356 705)"/>
<ellipse cx="296" cy="706" rx="3.2" ry="1.5" class="pk" transform="rotate(-28 296 706)"/>
<ellipse cx="326" cy="722" rx="3.2" ry="1.5" class="pk" transform="rotate(-28 326 722)"/>
<path d="M273,703 h6 v7 h-6 Z M309,727 h6 v7 h-6 Z" class="th"/>
<path d="M272.5,682.72 A4.25,3.22 0 0 1 281,682.72 L281,687.78 A4.25,3.22 0 0 1 272.5,687.78 Z" fill="#fff" stroke="#111" stroke-width="1.5"/>
<ellipse cx="276.75" cy="682.72" rx="4.25" ry="3.22" fill="#fff" stroke="#111" stroke-width="1.4"/>
<ellipse cx="276.75" cy="682.72" rx="2.3375000000000004" ry="1.7710000000000004" fill="#888" stroke="#111" stroke-width="1.1"/>
<path d="M274.625,685.618 V690.5 M278.875,685.618 V690.5" stroke="#111" stroke-width="1.2"/>
<ellipse cx="425" cy="663" rx="7" ry="7.5" class="pt"/>
<ellipse cx="424" cy="663" rx="5" ry="5.5" class="th"/>
<ellipse cx="423.5" cy="663" rx="2.2" ry="2.5" class="th"/>
<g transform="rotate(-30 384 742)">
<path d="M374,736 L382,736 L382,748 L374,748 Z" class="pt"/>
<path d="M382,738.5 L396,738.5 L396,745.5 L382,745.5 Z" class="pt"/>
<path d="M385,738.5 V745.5 M388,738.5 V745.5 M391,738.5 V745.5 M394,738.5 V745.5" class="th"/>
</g>
<g fill="none" stroke-linejoin="round">
<path d="M90.8,710.2 L112.1,696.9 L113.9,697.5 L113.9,722.6 L199.1,765.2 L221.3,751.9 L223,752.5 L223,860 L197,875 L197.3,893 L192,890 L188,868 L94,822 L90.8,839.7 L83.7,814.9 L78.4,791.8 L78.4,748.3 Z" class="hsf"/>
<path d="M78.4,748.3 L90.8,710.2 L112.1,696.9 M90.8,711 L199.1,765.2 L221.3,751.9 M78.4,791.8 L187.5,846 M199.1,765.2 L187.5,802.4 M197.5,767 L186,803 M187.5,846 L192,868 L197,875 L222,862 M94,822 L188,868 M83.7,814.9 L90.8,839.7" class="hs"/>
<path d="M78.4,748.3 L187.5,802.4" class="hg"/>
<path d="M223,752.5 L223,860 M113.9,697.5 L113.9,722.6 M187.5,802.4 L187.5,846 M190,803 L190,846 M78.4,748.3 L78.4,791.8 M197,875 L197.3,893 L192,890" class="hl"/>
<path d="M83.7,814.9 L110,829 L110,845 L95,838" class="hl"/>
<ellipse cx="105" cy="791" rx="1" ry="1" class="hs"/>
<ellipse cx="124" cy="801" rx="1" ry="1" class="hs"/>
<ellipse cx="96" cy="827" rx="1" ry="1" class="hs"/>
<ellipse cx="204" cy="885" rx="1" ry="1" class="hs"/>
</g>
<g transform="rotate(-25 66 834)">
<path d="M55,829 L65,829 L65,840 L55,840 Z" class="pt"/>
<path d="M65,831 L78,831 L78,838 L65,838 Z" class="pt"/>
<path d="M68,831 V838 M71,831 V838 M74,831 V838" class="th"/>
</g>
<ellipse cx="165" cy="866" rx="7" ry="7.5" class="pt"/>
<ellipse cx="166" cy="866.5" rx="3.5" ry="4" class="th"/>
<ellipse cx="166.5" cy="866.5" rx="1.5" ry="1.8" class="th"/>
<path d="M256.6,802.6 C257,792 264,787 271.5,785.8 L291.5,776 C300,775 316,782 325,788.4 C328,790 329,795 332,797 L354.7,810.3 L367.6,812.3 C380,820 390,826 392,832.3 C395,836 395.3,840 395.3,842.6 L396.6,886.5 C396,896 385,902 374,902 C366,905 360,907 357.3,906.5 L348.2,903.2 L259.2,853 C257,850 256.6,846 256.6,842.6 Z" class="pt"/>
<path d="M260.5,800 C265,795 275,797 283,803 L350.8,850.3 C356,852 362,851 367.6,849 L388.2,837.4" class="pn"/>
<path d="M253.4,818 C252,824 254,828 260,831 L348.2,880 C356,884 365,884 372,882 L398.5,864 C400,860 399,857 398.5,855.5" class="pn"/>
<path d="M253.4,815 C251,821 254,826 260,828 L348.2,877 C356,881 365,881 372,879 L398.5,861" class="th"/>
<path d="M349.5,850 L349.5,903 M372.7,849 L372.7,902 M260.5,800 L260.5,850 M390,840 L390,888" class="pn"/>
<ellipse cx="296" cy="814" rx="1.6" ry="1.2" class="pk"/>
<ellipse cx="326" cy="830" rx="1.6" ry="1.2" class="pk"/>
<ellipse cx="356" cy="814" rx="1.6" ry="1.2" class="pk"/>
<ellipse cx="325" cy="796" rx="1.4" ry="1" class="pk"/>
<path d="M271.5,776 L271.5,791 C271.5,796 291.5,796 291.5,791 L291.5,776 Z" class="pt"/>
<ellipse cx="281.5" cy="776" rx="10" ry="6" class="pt"/>
<path d="M329,955 C329,945 345,940 357,940.5 C372,941 384,946 384,955 L384,963 C384,972 370,978 358,979 L346,982 L340,978 L332,970 C329,967 329,963 329,960 Z" class="pt"/>
<ellipse cx="356" cy="955" rx="27" ry="13" class="pt"/>
<ellipse cx="356" cy="958" rx="18" ry="9" class="pn"/>
<path d="M333,966 L345,982 M350,978 C355,972 362,970 372,972" class="pn"/>
<ellipse cx="379.5" cy="955.0" rx="1" ry="0.8" class="pk"/>
<ellipse cx="375.0118993678113" cy="961.4656377752173" rx="1" ry="0.8" class="pk"/>
<ellipse cx="363.2618993678113" cy="965.4616216792467" rx="1" ry="0.8" class="pk"/>
<ellipse cx="348.7381006321887" cy="965.4616216792467" rx="1" ry="0.8" class="pk"/>
<ellipse cx="336.9881006321887" cy="961.4656377752173" rx="1" ry="0.8" class="pk"/>
<ellipse cx="332.5" cy="955.0" rx="1" ry="0.8" class="pk"/>
<ellipse cx="336.9881006321887" cy="948.5343622247829" rx="1" ry="0.8" class="pk"/>
<ellipse cx="348.7381006321887" cy="944.5383783207533" rx="1" ry="0.8" class="pk"/>
<ellipse cx="363.2618993678113" cy="944.5383783207533" rx="1" ry="0.8" class="pk"/>
<ellipse cx="375.0118993678113" cy="948.5343622247827" rx="1" ry="0.8" class="pk"/>
<ellipse cx="377.5" cy="999.5" rx="6" ry="3.5" class="pt"/>
<path d="M372,999.5 L383,999.5 M377.5,996.5 L377.5,1002.5" class="th"/>
<path d="M375.5,1016 L379.5,1016 L379.5,1026 L375.5,1026 Z" class="gy"/>
<ellipse cx="377.5" cy="1027" rx="3" ry="1.5" class="gy"/>
<path d="M193.9,929.4 L299.7,982.5 L300.3,1001.8 L292.7,1008.8 L290.4,1015.9 L237.7,1053.3 L227.2,1056.2 L123.2,1003.6 L127.9,999.5 L189.8,954.5 L193.9,949.2 Z" class="hsf"/>
<path d="M193.9,929.4 L299.7,982.5 L300.3,1001.8 M300.3,1001.8 L292.7,1008.8 L276.3,1018.2 M292.7,1008.8 L290.4,1015.9 L237.7,1053.3 L227.2,1056.2 L123.2,1003.6 L127.9,999.5 L189.8,954.5 L193.9,949.2 M180.5,969.7 L277.5,1018.2 M136,999.5 L234.2,1048.6 M189.8,954.5 L180.5,969.1 M234.2,1048.6 L237.7,1053.3 M127.9,999.5 L136,999.5" class="hs"/>
<path d="M193.9,949.8 L299.7,1001.8" class="hg"/>
<path d="M193.9,929.4 L193.9,949.2 M180.5,969.1 L136,998.3" class="hl"/>
<ellipse cx="200" cy="937" rx="1.3" ry="1.6" class="hs"/>
<ellipse cx="294" cy="984" rx="1.3" ry="1.6" class="hs"/>
<ellipse cx="145" cy="987" rx="0.9" ry="1.1" class="hs"/>
<ellipse cx="250" cy="1040" rx="0.9" ry="1.1" class="hs"/>
<g transform="rotate(30 292 1063)">
<path d="M292,1057 L302,1057 L302,1069 L292,1069 Z" class="pt"/>
<path d="M279,1059.5 L292,1059.5 L292,1066.5 L279,1066.5 Z" class="pt"/>
<path d="M282,1059.5 V1066.5 M285,1059.5 V1066.5 M288,1059.5 V1066.5" class="th"/>
</g>
<rect x="860.0" y="599.5" width="4.5" height="11.5" rx="1.8" class="pt"/><path d="M860.0,602.5 Q862.25,603.9 864.5,602.5" class="th"/><path d="M860.0,605.1 Q862.25,606.5 864.5,605.1" class="th"/><path d="M860.0,607.7 Q862.25,609.1 864.5,607.7" class="th"/><path d="M857.5,596.5 A4.75,2.5 0 0 1 867.0,596.5 L867.0,598.5 A4.75,2.5 0 0 1 857.5,598.5 Z" class="pt"/><path d="M860.35,598 V600.5 M864.15,598 V600.5" class="th"/>
<rect x="981.75" y="477.5" width="5.5" height="19.5" rx="2.75" class="pt"/><path d="M981.75,480.0 Q984.5,481.6 987.25,480.0" class="th"/><path d="M981.75,482.8 Q984.5,484.40000000000003 987.25,482.8" class="th"/><path d="M981.75,485.6 Q984.5,487.20000000000005 987.25,485.6" class="th"/><path d="M981.75,488.40000000000003 Q984.5,490.00000000000006 987.25,488.40000000000003" class="th"/><path d="M981.75,491.20000000000005 Q984.5,492.80000000000007 987.25,491.20000000000005" class="th"/><path d="M981.75,494.00000000000006 Q984.5,495.6000000000001 987.25,494.00000000000006" class="th"/><path d="M979.0,497.5 A5.5,3 0 0 1 990.0,497.5 L990.0,502 A5.5,3 0 0 1 979.0,502 Z" class="pt"/><path d="M979.0,500 A5.5,3 0 0 0 990.0,500" class="th"/><path d="M982.025,502 V504 M986.975,502 V504" class="th"/><ellipse cx="984.5" cy="497.5" rx="3.25" ry="1.8" class="th"/>
<rect x="909.0" y="506" width="5.5" height="20" rx="2.75" class="pt"/><path d="M909.0,508.5 Q911.75,510.1 914.5,508.5" class="th"/><path d="M909.0,511.3 Q911.75,512.9 914.5,511.3" class="th"/><path d="M909.0,514.1 Q911.75,515.7 914.5,514.1" class="th"/><path d="M909.0,516.9 Q911.75,518.5 914.5,516.9" class="th"/><path d="M909.0,519.6999999999999 Q911.75,521.3 914.5,519.6999999999999" class="th"/><path d="M909.0,522.4999999999999 Q911.75,524.0999999999999 914.5,522.4999999999999" class="th"/><path d="M906.0,526.5 A5.75,3 0 0 1 917.5,526.5 L917.5,531 A5.75,3 0 0 1 906.0,531 Z" class="pt"/><path d="M906.0,529 A5.75,3 0 0 0 917.5,529" class="th"/><path d="M909.1625,531 V533 M914.3375,531 V533" class="th"/><ellipse cx="911.75" cy="526.5" rx="3.25" ry="1.8" class="th"/>
<path d="M887,540.66 A5.5,2.66 0 0 1 898,540.66 L898,544.84 A5.5,2.66 0 0 1 887,544.84 Z" fill="#fff" stroke="#111" stroke-width="1.5"/>
<ellipse cx="892.5" cy="540.66" rx="5.5" ry="2.66" fill="#fff" stroke="#111" stroke-width="1.4"/>
<ellipse cx="892.5" cy="540.66" rx="3.0250000000000004" ry="1.4630000000000003" fill="#888" stroke="#111" stroke-width="1.1"/>
<path d="M889.75,543.054 V547.0 M895.25,543.054 V547.0" stroke="#111" stroke-width="1.2"/>
<path d="M885.5,561.5 A7.25,4.0 0 0 1 900,561.5 L900,563.5 A7.25,4.0 0 0 1 885.5,563.5 Z" fill="#fff" stroke="#111" stroke-width="1.5"/>
<ellipse cx="892.75" cy="561.5" rx="7.25" ry="4.0" fill="#fff" stroke="#111" stroke-width="1.4"/>
<ellipse cx="892.75" cy="561.5" rx="4.495" ry="2.4" fill="none" stroke="#555" stroke-width="1"/>
<ellipse cx="892.75" cy="561.5" rx="2.5374999999999996" ry="1.4" fill="#fff" stroke="#111" stroke-width="1.1"/>
<path d="M887.5,580.66 A5.25,2.66 0 0 1 898,580.66 L898,584.84 A5.25,2.66 0 0 1 887.5,584.84 Z" fill="#fff" stroke="#111" stroke-width="1.5"/>
<ellipse cx="892.75" cy="580.66" rx="5.25" ry="2.66" fill="#fff" stroke="#111" stroke-width="1.4"/>
<ellipse cx="892.75" cy="580.66" rx="2.8875" ry="1.4630000000000003" fill="#888" stroke="#111" stroke-width="1.1"/>
<path d="M890.125,583.054 V587.0 M895.375,583.054 V587.0" stroke="#111" stroke-width="1.2"/>
<path d="M892.8,612 L892.8,636 C892.8,640 889,641 886,639 L879,634 C877,632.5 876.5,631 876.5,628 L876.5,619 C876.5,614 884,613 885,617 L885,621" fill="none" stroke="#111" stroke-width="5" stroke-linejoin="round"/>
<path d="M892.8,612 L892.8,636 C892.8,640 889,641 886,639 L879,634 C877,632.5 876.5,631 876.5,628 L876.5,619 C876.5,614 884,613 885,617 L885,621" fill="none" stroke="#fff" stroke-width="2.4" stroke-linejoin="round"/>
<path d="M890.3,592.5 L895.3,592.5 L895.3,612 L890.3,612 Z" class="pt"/>
<path d="M890.3,595 h5 M890.3,598 h5 M890.3,601 h5 M890.3,604 h5 M890.3,607 h5 M890.3,610 h5" class="th"/>
<rect x="1074.5" y="634" width="5.5" height="20.5" rx="2.75" class="pt"/><path d="M1074.5,636.5 Q1077.25,638.1 1080.0,636.5" class="th"/><path d="M1074.5,639.3 Q1077.25,640.9 1080.0,639.3" class="th"/><path d="M1074.5,642.0999999999999 Q1077.25,643.6999999999999 1080.0,642.0999999999999" class="th"/><path d="M1074.5,644.8999999999999 Q1077.25,646.4999999999999 1080.0,644.8999999999999" class="th"/><path d="M1074.5,647.6999999999998 Q1077.25,649.2999999999998 1080.0,647.6999999999998" class="th"/><path d="M1074.5,650.4999999999998 Q1077.25,652.0999999999998 1080.0,650.4999999999998" class="th"/><path d="M1072.0,655.0 A5.25,3 0 0 1 1082.5,655.0 L1082.5,659.5 A5.25,3 0 0 1 1072.0,659.5 Z" class="pt"/><path d="M1072.0,657.5 A5.25,3 0 0 0 1082.5,657.5" class="th"/><path d="M1074.8875,659.5 V661.5 M1079.6125,659.5 V661.5" class="th"/><ellipse cx="1077.25" cy="655.0" rx="3.25" ry="1.8" class="th"/>
<g transform="rotate(-33 1201 770)">
<rect x="1172" y="765.5" width="58" height="9" rx="4.5" fill="#fff" stroke="#777" stroke-width="1"/>
<line x1="1175.0" y1="765.5" x2="1176.5" y2="774.5" stroke="#666" stroke-width="0.9"/>
<line x1="1177.2" y1="765.5" x2="1178.7" y2="774.5" stroke="#666" stroke-width="0.9"/>
<line x1="1179.4" y1="765.5" x2="1180.9" y2="774.5" stroke="#666" stroke-width="0.9"/>
<line x1="1181.6" y1="765.5" x2="1183.1" y2="774.5" stroke="#666" stroke-width="0.9"/>
<line x1="1183.8" y1="765.5" x2="1185.3" y2="774.5" stroke="#666" stroke-width="0.9"/>
<line x1="1186.0" y1="765.5" x2="1187.5" y2="774.5" stroke="#666" stroke-width="0.9"/>
<line x1="1188.2" y1="765.5" x2="1189.7" y2="774.5" stroke="#666" stroke-width="0.9"/>
<line x1="1190.4" y1="765.5" x2="1191.9" y2="774.5" stroke="#666" stroke-width="0.9"/>
<line x1="1192.6" y1="765.5" x2="1194.1" y2="774.5" stroke="#666" stroke-width="0.9"/>
<line x1="1194.8" y1="765.5" x2="1196.3" y2="774.5" stroke="#666" stroke-width="0.9"/>
<line x1="1197.0" y1="765.5" x2="1198.5" y2="774.5" stroke="#666" stroke-width="0.9"/>
<line x1="1199.2" y1="765.5" x2="1200.7" y2="774.5" stroke="#666" stroke-width="0.9"/>
<line x1="1201.4" y1="765.5" x2="1202.9" y2="774.5" stroke="#666" stroke-width="0.9"/>
<line x1="1203.6" y1="765.5" x2="1205.1" y2="774.5" stroke="#666" stroke-width="0.9"/>
<line x1="1205.8" y1="765.5" x2="1207.3" y2="774.5" stroke="#666" stroke-width="0.9"/>
<line x1="1208.0" y1="765.5" x2="1209.5" y2="774.5" stroke="#666" stroke-width="0.9"/>
<line x1="1210.2" y1="765.5" x2="1211.7" y2="774.5" stroke="#666" stroke-width="0.9"/>
<line x1="1212.4" y1="765.5" x2="1213.9" y2="774.5" stroke="#666" stroke-width="0.9"/>
<line x1="1214.6" y1="765.5" x2="1216.1" y2="774.5" stroke="#666" stroke-width="0.9"/>
<line x1="1216.8" y1="765.5" x2="1218.3" y2="774.5" stroke="#666" stroke-width="0.9"/>
<line x1="1219.0" y1="765.5" x2="1220.5" y2="774.5" stroke="#666" stroke-width="0.9"/>
<line x1="1221.2" y1="765.5" x2="1222.7" y2="774.5" stroke="#666" stroke-width="0.9"/>
<line x1="1223.4" y1="765.5" x2="1224.9" y2="774.5" stroke="#666" stroke-width="0.9"/>
<line x1="1225.6" y1="765.5" x2="1227.1" y2="774.5" stroke="#666" stroke-width="0.9"/>
</g>
<path d="M856,750.02 A4.5,2.5200000000000005 0 0 1 865,750.02 L865,753.98 A4.5,2.5200000000000005 0 0 1 856,753.98 Z" fill="#fff" stroke="#111" stroke-width="1.5"/>
<ellipse cx="860.5" cy="750.02" rx="4.5" ry="2.5200000000000005" fill="#fff" stroke="#111" stroke-width="1.4"/>
<ellipse cx="860.5" cy="750.02" rx="2.475" ry="1.3860000000000003" fill="#888" stroke="#111" stroke-width="1.1"/>
<path d="M858.25,752.288 V756.0 M862.75,752.288 V756.0" stroke="#111" stroke-width="1.2"/>
<path d="M1086,758.34 A8.0,4.340000000000001 0 0 1 1102,758.34 L1102,765.16 A8.0,4.340000000000001 0 0 1 1086,765.16 Z" fill="#fff" stroke="#111" stroke-width="1.5"/>
<ellipse cx="1094.0" cy="758.34" rx="8.0" ry="4.340000000000001" fill="#fff" stroke="#111" stroke-width="1.4"/>
<ellipse cx="1094.0" cy="758.34" rx="4.4" ry="2.3870000000000005" fill="#888" stroke="#111" stroke-width="1.1"/>
<path d="M1090.0,762.246 V769.0 M1098.0,762.246 V769.0" stroke="#111" stroke-width="1.2"/>
<rect x="725.5" y="802.5" width="6.5" height="23.5" rx="3.25" class="pt"/><path d="M725.5,805.0 Q728.75,806.6 732.0,805.0" class="th"/><path d="M725.5,807.8 Q728.75,809.4 732.0,807.8" class="th"/><path d="M725.5,810.5999999999999 Q728.75,812.1999999999999 732.0,810.5999999999999" class="th"/><path d="M725.5,813.3999999999999 Q728.75,814.9999999999999 732.0,813.3999999999999" class="th"/><path d="M725.5,816.1999999999998 Q728.75,817.7999999999998 732.0,816.1999999999998" class="th"/><path d="M725.5,818.9999999999998 Q728.75,820.5999999999998 732.0,818.9999999999998" class="th"/><path d="M725.5,821.7999999999997 Q728.75,823.3999999999997 732.0,821.7999999999997" class="th"/><path d="M722.0,826.5 A6.75,3 0 0 1 735.5,826.5 L735.5,832 A6.75,3 0 0 1 722.0,832 Z" class="pt"/><path d="M722.0,829 A6.75,3 0 0 0 735.5,829" class="th"/><path d="M725.7125,831 V834 M731.7875,831 V834" class="th"/><ellipse cx="728.75" cy="826.5" rx="3.75" ry="1.8" class="th"/>
<path d="M627,827 C627,825 632.5,825 632.5,828 L632.5,859 C632.5,862 627,862 627,859 Z" class="pt"/>
<path d="M629.7,828 L629.7,859" class="th"/>
<path d="M649.9,867.7 A27.1,15.8 0 0 0 704.1,867.7 L704.1,877 A27.1,15.5 0 0 1 649.9,877 Z" class="pt"/>
<path d="M649.9,877 A27.1,15.5 0 0 0 704.1,877" class="pn"/>
<ellipse cx="677" cy="867.7" rx="27.1" ry="15.8" class="pt"/>
<path d="M651.5,870 A25.5,14 0 0 0 702.5,870" fill="none" stroke="#111" stroke-width="2.6"/>
<ellipse cx="677" cy="867.7" rx="25.3" ry="14.2" class="th"/>
<ellipse cx="677.3" cy="872" rx="15.5" ry="7.6" class="pn"/>
<path d="M668,861.5 L668,874 A9.3,4 0 0 0 686.6,874 L686.6,861.5 Z" class="pt"/>
<ellipse cx="677.3" cy="861.5" rx="9.3" ry="4.8" class="pt"/>
<ellipse cx="677.3" cy="861.5" rx="5.5" ry="2.8" class="th"/>
<path d="M643.2,918.7 A33.9,19.5 0 0 1 710.9,918.7 L710.9,960 C710,968 695,972.1 677,972.1 C659,972.1 644,968 643.2,960 L643.2,950 C636,944 631,938 630.2,933.7 L630.2,930.3 L642.6,926.4 Z" class="pt"/>
<path d="M643.2,930 A33.9,9.5 0 0 0 710.9,930" class="pn"/>
<path d="M643.2,918.7 L643.2,930 M710.9,918.7 L710.9,930" class="pn"/>
<ellipse cx="677" cy="918.7" rx="33.9" ry="19.5" class="pt"/>
<ellipse cx="676.8" cy="917.9" rx="17.8" ry="10.2" class="pn"/>
<ellipse cx="676.8" cy="917.5" rx="12.7" ry="7.6" fill="none" stroke="#111" stroke-width="2"/>
<ellipse cx="677" cy="919.5" rx="8.7" ry="4.8" class="th"/>
<path d="M630.2,933.7 C640,945 655,952 677.6,955.2 L700,952" class="pn"/>
<path d="M643.2,952 A33.9,10 0 0 0 710.9,952 M643.2,959.7 A33.9,9 0 0 0 710.9,959.7 M645,966.5 A32,7 0 0 0 709,966.5" class="pn"/>
<path d="M677,947.3 L681.5,947.3 L681.5,957.4 L677,957.4 Z" class="pn"/>
<path d="M686,955 L692,943 L702,940" class="pn"/>
<rect x="671.5" y="1004" width="6" height="23" rx="3.0" class="pt"/><path d="M671.5,1006.5 Q674.5,1008.1 677.5,1006.5" class="th"/><path d="M671.5,1009.3 Q674.5,1010.9 677.5,1009.3" class="th"/><path d="M671.5,1012.0999999999999 Q674.5,1013.6999999999999 677.5,1012.0999999999999" class="th"/><path d="M671.5,1014.8999999999999 Q674.5,1016.4999999999999 677.5,1014.8999999999999" class="th"/><path d="M671.5,1017.6999999999998 Q674.5,1019.2999999999998 677.5,1017.6999999999998" class="th"/><path d="M671.5,1020.4999999999998 Q674.5,1022.0999999999998 677.5,1020.4999999999998" class="th"/><path d="M671.5,1023.2999999999997 Q674.5,1024.8999999999996 677.5,1023.2999999999997" class="th"/><path d="M668.0,1027.5 A6.5,3 0 0 1 681.0,1027.5 L681.0,1032 A6.5,3 0 0 1 668.0,1032 Z" class="pt"/><path d="M668.0,1030 A6.5,3 0 0 0 681.0,1030" class="th"/><path d="M671.575,1032 V1034 M677.425,1032 V1034" class="th"/><ellipse cx="674.5" cy="1027.5" rx="3.5" ry="1.8" class="th"/>
<path d="M579,1054.4 L607.7,1030.4 L613.9,1032.8 L628.3,1033.9 L641.6,1025.7 L643.7,1027.7 L630.3,1051.3 C624,1058 622,1064 625,1070 C632,1082 645,1087 660,1086 C672,1085 680,1083 690,1080 L713.4,1066.7 L761.7,1095.4 L715.5,1124.2 L673.4,1100.6 L624.2,1092.4 L623,1082 L618,1079 Z" class="pt"/>
<path d="M627,1056 C635,1056 650,1060 658,1062 L658,1066 C650,1064 635,1060 628,1060" class="pn"/>
<path d="M623,1082 L628,1090 M637,1093 L637,1112 L640,1113 L640,1094 M628,1094 L628,1104 M727,1073 L737,1070 L738,1080" class="pn"/>
<ellipse cx="591" cy="1050" rx="3" ry="1.5" class="th" transform="rotate(-35 591 1050)"/>
<ellipse cx="626" cy="1036" rx="2" ry="1.2" class="th"/>
<ellipse cx="718" cy="1084" rx="2" ry="1.3" class="th"/>
<ellipse cx="751" cy="1095" rx="3" ry="1.3" class="th" transform="rotate(-30 751 1095)"/>
<ellipse cx="713" cy="1113" rx="3" ry="1.3" class="th" transform="rotate(-30 713 1113)"/>
<ellipse cx="641" cy="1088" rx="1.5" ry="1" class="th"/>
<path d="M748,1052.94 A6.25,2.9400000000000004 0 0 1 760.5,1052.94 L760.5,1057.56 A6.25,2.9400000000000004 0 0 1 748,1057.56 Z" fill="#fff" stroke="#111" stroke-width="1.5"/>
<ellipse cx="754.25" cy="1052.94" rx="6.25" ry="2.9400000000000004" fill="#fff" stroke="#111" stroke-width="1.4"/>
<ellipse cx="754.25" cy="1052.94" rx="3.4375000000000004" ry="1.6170000000000004" fill="#888" stroke="#111" stroke-width="1.1"/>
<path d="M751.125,1055.586 V1060.0 M757.375,1055.586 V1060.0" stroke="#111" stroke-width="1.2"/>
<path d="M747.3,1114.48 A6.650000000000034,3.6800000000000184 0 0 1 760.6,1114.48 L760.6,1116.32 A6.650000000000034,3.6800000000000184 0 0 1 747.3,1116.32 Z" fill="#fff" stroke="#111" stroke-width="1.5"/>
<ellipse cx="753.95" cy="1114.48" rx="6.650000000000034" ry="3.6800000000000184" fill="#fff" stroke="#111" stroke-width="1.4"/>
<ellipse cx="753.95" cy="1114.48" rx="4.1230000000000215" ry="2.208000000000011" fill="none" stroke="#555" stroke-width="1"/>
<ellipse cx="753.95" cy="1114.48" rx="2.3275000000000117" ry="1.2880000000000063" fill="#fff" stroke="#111" stroke-width="1.1"/>
<rect x="751.4000000000001" y="1128" width="5.5" height="15" rx="2.75" class="pt"/><path d="M751.4000000000001,1130.5 Q754.1500000000001,1132.1 756.9000000000001,1130.5" class="th"/><path d="M751.4000000000001,1133.3 Q754.1500000000001,1134.8999999999999 756.9000000000001,1133.3" class="th"/><path d="M751.4000000000001,1136.1 Q754.1500000000001,1137.6999999999998 756.9000000000001,1136.1" class="th"/><path d="M751.4000000000001,1138.8999999999999 Q754.1500000000001,1140.4999999999998 756.9000000000001,1138.8999999999999" class="th"/><path d="M747.7,1143.5 A6.449999999999989,3 0 0 1 760.6000000000001,1143.5 L760.6000000000001,1147 A6.449999999999989,3 0 0 1 747.7,1147 Z" class="pt"/><path d="M747.7,1146 A6.449999999999989,3 0 0 0 760.6000000000001,1146" class="th"/><path d="M751.2475000000001,1148 V1149 M757.0525000000001,1148 V1149" class="th"/><ellipse cx="754.1500000000001" cy="1143.5" rx="3.25" ry="1.8" class="th"/>
<path d="M886,952.5 C900,944 915,932 937.5,920" class="pk"/>
<path d="M937.5,920 L945,915 L955,909" class="pn"/>
<g transform="rotate(-33 960 906)">
<rect x="940" y="902" width="14" height="7" fill="#fff" stroke="#111" stroke-width="1.1"/>
<rect x="954" y="903" width="10" height="5" fill="#fff" stroke="#111" stroke-width="1.1"/>
<rect x="964" y="900.5" width="18" height="10" rx="3" fill="#222" stroke="#111" stroke-width="1"/>
<line x1="966.0" y1="900.5" x2="966.0" y2="910.5" stroke="#fff" stroke-width="0.7"/>
<line x1="969.5" y1="900.5" x2="969.5" y2="910.5" stroke="#fff" stroke-width="0.7"/>
<line x1="973.0" y1="900.5" x2="973.0" y2="910.5" stroke="#fff" stroke-width="0.7"/>
<line x1="976.5" y1="900.5" x2="976.5" y2="910.5" stroke="#fff" stroke-width="0.7"/>
<line x1="980.0" y1="900.5" x2="980.0" y2="910.5" stroke="#fff" stroke-width="0.7"/>
<path d="M982,905.5 L990,905.5 C994,905.5 995,902 992,900.5" fill="none" stroke="#111" stroke-width="1.6"/>
</g>
<path d="M1082.5,806 A13,7 0 0 1 1108.75,806 L1108.75,810 A13,7 0 0 1 1082.5,810 Z" class="pt"/>
<ellipse cx="1095.6" cy="806" rx="13.1" ry="7" class="pt"/>
<ellipse cx="1095.6" cy="806" rx="5.5" ry="3" class="th"/>
<path d="M1090,815 L1090,819 A5.5,2 0 0 0 1101,819 L1101,815" class="pn"/>
<path d="M1030,932.5 L1040,872.5 L1046,855 L1046.25,851.25 L1066.25,840.5 L1077.5,846.25 L1150,820 C1162,816 1172,818 1177.5,827.5 L1178.75,837.5 L1162.5,851.25 L1085,887.5 L1073.75,900 L1067.5,930 L1050,940 C1040,939 1034,937 1030,932.5 Z" class="pt"/>
<path d="M1040,914 L1046,876 L1050,866 L1065,858 L1061,850 L1068,847 L1079,852 L1145,828 C1152,826 1157,830 1157,836 L1156,840 L1082,882 L1068,897 L1062,918 C1055,921 1046,920 1040,914 Z" class="pn"/>
<ellipse cx="1051" cy="925" rx="4" ry="2.5" class="th"/>
<ellipse cx="1157" cy="829" rx="3.5" ry="2" class="th"/>
<ellipse cx="1092" cy="868" rx="9" ry="5" class="pn"/>
<ellipse cx="1092" cy="868" rx="7" ry="3.8" class="th"/>
<path d="M1163,836 L1179,842 L1180,853 L1176,853 L1176,845" class="pn"/>
<path d="M1150,850 L1150,856 M1157,848 L1157,854" class="th"/>
<path d="M1086,889 L1086,894 A5,2 0 0 0 1096,894 L1096,885" class="pn"/>
<path d="M990,920 L1033.75,900 L1033.75,910 L990,930 Z" class="pt"/>
<path d="M990,920 L993,922 L993,931" class="th"/>
<path d="M1120.2,895 A36.8,20 0 0 0 1193.8,895 L1193.8,906 A36.8,20 0 0 1 1120.2,906 Z" fill="#fff" stroke="#bbb" stroke-width="1.3"/>
<path d="M1121.2,901.05 A35.8,19.5 0 0 0 1192.8,901.05" fill="none" stroke="#c8c8c8" stroke-width="1.2"/>
<ellipse cx="1157" cy="895" rx="36.8" ry="20" fill="#fff" stroke="#888" stroke-width="1.3"/>
<ellipse cx="1157" cy="895" rx="34.3" ry="18.4" fill="none" stroke="#999" stroke-width="1"/>
<ellipse cx="1157" cy="896" rx="20.24" ry="11.0" fill="none" stroke="#999" stroke-width="1"/>
<line x1="1157.0" y1="900.4" x2="1157.0" y2="913.4" stroke="#777" stroke-width="2.4"/>
<line x1="1157.0" y1="900.4" x2="1157.0" y2="913.4" stroke="#fff" stroke-width="0.9"/>
<line x1="1151.3" y1="899.1" x2="1132.7" y2="908.0" stroke="#777" stroke-width="2.4"/>
<line x1="1151.3" y1="899.1" x2="1132.7" y2="908.0" stroke="#fff" stroke-width="0.9"/>
<line x1="1148.9" y1="896.0" x2="1122.7" y2="895.0" stroke="#777" stroke-width="2.4"/>
<line x1="1148.9" y1="896.0" x2="1122.7" y2="895.0" stroke="#fff" stroke-width="0.9"/>
<line x1="1151.3" y1="892.9" x2="1132.7" y2="882.0" stroke="#777" stroke-width="2.4"/>
<line x1="1151.3" y1="892.9" x2="1132.7" y2="882.0" stroke="#fff" stroke-width="0.9"/>
<line x1="1157.0" y1="891.6" x2="1157.0" y2="876.6" stroke="#777" stroke-width="2.4"/>
<line x1="1157.0" y1="891.6" x2="1157.0" y2="876.6" stroke="#fff" stroke-width="0.9"/>
<line x1="1162.7" y1="892.9" x2="1181.3" y2="882.0" stroke="#777" stroke-width="2.4"/>
<line x1="1162.7" y1="892.9" x2="1181.3" y2="882.0" stroke="#fff" stroke-width="0.9"/>
<line x1="1165.1" y1="896.0" x2="1191.3" y2="895.0" stroke="#777" stroke-width="2.4"/>
<line x1="1165.1" y1="896.0" x2="1191.3" y2="895.0" stroke="#fff" stroke-width="0.9"/>
<line x1="1162.7" y1="899.1" x2="1181.3" y2="908.0" stroke="#777" stroke-width="2.4"/>
<line x1="1162.7" y1="899.1" x2="1181.3" y2="908.0" stroke="#fff" stroke-width="0.9"/>
<ellipse cx="1157" cy="896" rx="9.2" ry="5.4" fill="#fff" stroke="#333" stroke-width="1.3"/>
<ellipse cx="1157" cy="896" rx="5.888" ry="3.4000000000000004" fill="none" stroke="#333" stroke-width="1.1"/>
<ellipse cx="1157" cy="896" rx="2.576" ry="1.6" fill="none" stroke="#333" stroke-width="1"/>
<path d="M1010.2,980 A36.8,20 0 0 0 1083.8,980 L1083.8,991 A36.8,20 0 0 1 1010.2,991 Z" fill="#fff" stroke="#bbb" stroke-width="1.3"/>
<path d="M1011.2,986.05 A35.8,19.5 0 0 0 1082.8,986.05" fill="none" stroke="#c8c8c8" stroke-width="1.2"/>
<ellipse cx="1047" cy="980" rx="36.8" ry="20" fill="#fff" stroke="#888" stroke-width="1.3"/>
<ellipse cx="1047" cy="980" rx="34.3" ry="18.4" fill="none" stroke="#999" stroke-width="1"/>
<ellipse cx="1047" cy="981" rx="20.24" ry="11.0" fill="none" stroke="#999" stroke-width="1"/>
<line x1="1047.0" y1="985.4" x2="1047.0" y2="998.4" stroke="#777" stroke-width="2.4"/>
<line x1="1047.0" y1="985.4" x2="1047.0" y2="998.4" stroke="#fff" stroke-width="0.9"/>
<line x1="1041.3" y1="984.1" x2="1022.7" y2="993.0" stroke="#777" stroke-width="2.4"/>
<line x1="1041.3" y1="984.1" x2="1022.7" y2="993.0" stroke="#fff" stroke-width="0.9"/>
<line x1="1038.9" y1="981.0" x2="1012.7" y2="980.0" stroke="#777" stroke-width="2.4"/>
<line x1="1038.9" y1="981.0" x2="1012.7" y2="980.0" stroke="#fff" stroke-width="0.9"/>
<line x1="1041.3" y1="977.9" x2="1022.7" y2="967.0" stroke="#777" stroke-width="2.4"/>
<line x1="1041.3" y1="977.9" x2="1022.7" y2="967.0" stroke="#fff" stroke-width="0.9"/>
<line x1="1047.0" y1="976.6" x2="1047.0" y2="961.6" stroke="#777" stroke-width="2.4"/>
<line x1="1047.0" y1="976.6" x2="1047.0" y2="961.6" stroke="#fff" stroke-width="0.9"/>
<line x1="1052.7" y1="977.9" x2="1071.3" y2="967.0" stroke="#777" stroke-width="2.4"/>
<line x1="1052.7" y1="977.9" x2="1071.3" y2="967.0" stroke="#fff" stroke-width="0.9"/>
<line x1="1055.1" y1="981.0" x2="1081.3" y2="980.0" stroke="#777" stroke-width="2.4"/>
<line x1="1055.1" y1="981.0" x2="1081.3" y2="980.0" stroke="#fff" stroke-width="0.9"/>
<line x1="1052.7" y1="984.1" x2="1071.3" y2="993.0" stroke="#777" stroke-width="2.4"/>
<line x1="1052.7" y1="984.1" x2="1071.3" y2="993.0" stroke="#fff" stroke-width="0.9"/>
<ellipse cx="1047" cy="981" rx="9.2" ry="5.4" fill="#fff" stroke="#333" stroke-width="1.3"/>
<ellipse cx="1047" cy="981" rx="5.888" ry="3.4000000000000004" fill="none" stroke="#333" stroke-width="1.1"/>
<ellipse cx="1047" cy="981" rx="2.576" ry="1.6" fill="none" stroke="#333" stroke-width="1"/>
<path d="M1147.5,950.0 A8.5,5.0 0 0 1 1164.5,950.0 L1164.5,952.5 A8.5,5.0 0 0 1 1147.5,952.5 Z" fill="#fff" stroke="#111" stroke-width="1.5"/>
<ellipse cx="1156.0" cy="950.0" rx="8.5" ry="5.0" fill="#fff" stroke="#111" stroke-width="1.4"/>
<ellipse cx="1156.0" cy="950.0" rx="5.27" ry="3.0" fill="none" stroke="#555" stroke-width="1"/>
<ellipse cx="1156.0" cy="950.0" rx="2.9749999999999996" ry="1.75" fill="#fff" stroke="#111" stroke-width="1.1"/>
<rect x="1155.0" y="965" width="5" height="11.5" rx="2.5" class="pt"/><path d="M1155.0,967.5 Q1157.5,969.1 1160.0,967.5" class="th"/><path d="M1155.0,970.3 Q1157.5,971.9 1160.0,970.3" class="th"/><path d="M1155.0,973.0999999999999 Q1157.5,974.6999999999999 1160.0,973.0999999999999" class="th"/><path d="M1152.5,977.0 A5.0,3 0 0 1 1162.5,977.0 L1162.5,979.5 A5.0,3 0 0 1 1152.5,979.5 Z" class="pt"/><path d="M1152.5,979.5 A5.0,3 0 0 0 1162.5,979.5" class="th"/><path d="M1155.25,981.5 V981.5 M1159.75,981.5 V981.5" class="th"/><ellipse cx="1157.5" cy="977.0" rx="3.0" ry="1.8" class="th"/>
<path d="M1083.75,1021.6 A10.875,5.6000000000000005 0 0 1 1105.5,1021.6 L1105.5,1024.4 A10.875,5.6000000000000005 0 0 1 1083.75,1024.4 Z" fill="#fff" stroke="#111" stroke-width="1.5"/>
<ellipse cx="1094.625" cy="1021.6" rx="10.875" ry="5.6000000000000005" fill="#fff" stroke="#111" stroke-width="1.4"/>
<ellipse cx="1094.625" cy="1021.6" rx="6.7425" ry="3.3600000000000003" fill="none" stroke="#555" stroke-width="1"/>
<ellipse cx="1094.625" cy="1021.6" rx="3.80625" ry="1.96" fill="#fff" stroke="#111" stroke-width="1.1"/>
<path d="M1038.75,1041.2 A8.75,5.2 0 0 1 1056.25,1041.2 L1056.25,1043.8 A8.75,5.2 0 0 1 1038.75,1043.8 Z" fill="#fff" stroke="#111" stroke-width="1.5"/>
<ellipse cx="1047.5" cy="1041.2" rx="8.75" ry="5.2" fill="#fff" stroke="#111" stroke-width="1.4"/>
<ellipse cx="1047.5" cy="1041.2" rx="5.425" ry="3.12" fill="none" stroke="#555" stroke-width="1"/>
<ellipse cx="1047.5" cy="1041.2" rx="3.0625" ry="1.8199999999999998" fill="#fff" stroke="#111" stroke-width="1.1"/>
<path d="M1084.7,1055.18 A11.149999999999977,5.480000000000018 0 0 1 1107,1055.18 L1107,1057.92 A11.149999999999977,5.480000000000018 0 0 1 1084.7,1057.92 Z" fill="#fff" stroke="#111" stroke-width="1.5"/>
<ellipse cx="1095.85" cy="1055.18" rx="11.149999999999977" ry="5.480000000000018" fill="#fff" stroke="#111" stroke-width="1.4"/>
<ellipse cx="1095.85" cy="1055.18" rx="6.912999999999986" ry="3.288000000000011" fill="none" stroke="#555" stroke-width="1"/>
<ellipse cx="1095.85" cy="1055.18" rx="3.902499999999992" ry="1.9180000000000061" fill="#fff" stroke="#111" stroke-width="1.1"/>
<rect x="1045.0" y="1054" width="5" height="12" rx="2.5" class="pt"/><path d="M1045.0,1056.5 Q1047.5,1058.1 1050.0,1056.5" class="th"/><path d="M1045.0,1059.3 Q1047.5,1060.8999999999999 1050.0,1059.3" class="th"/><path d="M1045.0,1062.1 Q1047.5,1063.6999999999998 1050.0,1062.1" class="th"/><path d="M1042.0,1066.5 A5.5,3 0 0 1 1053.0,1066.5 L1053.0,1069 A5.5,3 0 0 1 1042.0,1069 Z" class="pt"/><path d="M1042.0,1069 A5.5,3 0 0 0 1053.0,1069" class="th"/><path d="M1045.025,1071 V1071 M1049.975,1071 V1071" class="th"/><ellipse cx="1047.5" cy="1066.5" rx="3.0" ry="1.8" class="th"/>
<rect x="1093.0" y="1081.3" width="6.5" height="24.40000000000009" rx="3.25" class="pt"/><path d="M1093.0,1083.8 Q1096.25,1085.3999999999999 1099.5,1083.8" class="th"/><path d="M1093.0,1086.6 Q1096.25,1088.1999999999998 1099.5,1086.6" class="th"/><path d="M1093.0,1089.3999999999999 Q1096.25,1090.9999999999998 1099.5,1089.3999999999999" class="th"/><path d="M1093.0,1092.1999999999998 Q1096.25,1093.7999999999997 1099.5,1092.1999999999998" class="th"/><path d="M1093.0,1094.9999999999998 Q1096.25,1096.5999999999997 1099.5,1094.9999999999998" class="th"/><path d="M1093.0,1097.7999999999997 Q1096.25,1099.3999999999996 1099.5,1097.7999999999997" class="th"/><path d="M1093.0,1100.5999999999997 Q1096.25,1102.1999999999996 1099.5,1100.5999999999997" class="th"/><path d="M1093.0,1103.3999999999996 Q1096.25,1104.9999999999995 1099.5,1103.3999999999996" class="th"/><path d="M1089.8,1106.2 A6.4500000000000455,3 0 0 1 1102.7,1106.2 L1102.7,1111.7 A6.4500000000000455,3 0 0 1 1089.8,1111.7 Z" class="pt"/><path d="M1089.8,1108.7 A6.4500000000000455,3 0 0 0 1102.7,1108.7" class="th"/><path d="M1093.3475,1110.7 V1113.7 M1099.1525,1110.7 V1113.7" class="th"/><ellipse cx="1096.25" cy="1106.2" rx="3.75" ry="1.8" class="th"/>
<path d="M1436,300 L1436,313 C1436,314.5 1442.7,314.5 1442.7,313 L1442.7,300 Z" class="pt"/>
<path d="M1436,303 h6.7 M1436,306 h6.7 M1436,309 h6.7" class="th"/>
<path d="M1434,300 C1434,292 1444.8,292 1444.8,300 C1442,302 1437,302 1434,300 Z" class="pt"/>
<path d="M1420.2,327.9 L1428.1,327.2 L1517.4,306.9 L1521.8,304 L1522.5,313.4 L1517.4,316.3 L1526.1,322.1 L1527.6,326.4 L1431.8,345.3 L1426.7,350.4 L1422.3,343.9 L1430.3,341 L1428.1,336.6 L1420.2,337.3 Z" class="pt"/>
<path d="M1428.1,327.2 L1428.1,336.6 L1517.4,316.3 L1517.4,306.9 M1430.3,341 L1526.1,322.1" class="pn"/>
<ellipse cx="1439" cy="340" rx="1.4" ry="1.2" class="pk"/>
<ellipse cx="1453" cy="337" rx="1.4" ry="1.2" class="pk"/>
<path d="M1424.5,372.9 L1444.8,360.6 L1537.7,411.3 L1524.7,426 L1524.7,436.7 L1523.2,453.4 L1485.5,433.8 L1485.5,415.7 L1424.5,380.1 Z" class="pt"/>
<path d="M1424.5,372.9 L1523.2,426.6 L1524.7,436.7 M1523.2,426.6 L1537.7,411.3" class="pn"/>
<path d="M1515.5,435.5 L1530,420 L1569,392 L1574.7,388.8 L1575.8,399 L1528,437.8 Z" class="pt"/>
<path d="M1524,432 L1569,396 M1569,392 L1569,401" class="pn"/>
<path d="M1528,437.8 L1553,420.8 L1535,438 L1534,444 L1529,444 Z" class="pt"/>
<ellipse cx="1439" cy="371" rx="2.6" ry="1.2" class="pk" transform="rotate(25 1439 371)"/>
<ellipse cx="1452" cy="368" rx="2.6" ry="1.2" class="pk" transform="rotate(25 1452 368)"/>
<ellipse cx="1492" cy="433" rx="1" ry="1" class="pk"/>
<ellipse cx="1518" cy="445" rx="1" ry="1" class="pk"/>
<ellipse cx="1596" cy="368" rx="6" ry="6.5" class="pt" transform="rotate(-30 1596 368)"/>
<ellipse cx="1596.5" cy="368" rx="3" ry="3.3" class="th"/>
<ellipse cx="1596.5" cy="368" rx="1.4" ry="1.5" class="th"/>
<ellipse cx="1579" cy="378" rx="5.5" ry="7" class="pt" transform="rotate(-20 1579 378)"/>
<ellipse cx="1579.5" cy="378" rx="2.3" ry="3" class="th" transform="rotate(-20 1579.5 378)"/>
<path d="M1432.5,398.42 A6.899999999999977,3.7200000000000046 0 0 1 1446.3,398.42 L1446.3,400.28 A6.899999999999977,3.7200000000000046 0 0 1 1432.5,400.28 Z" fill="#fff" stroke="#111" stroke-width="1.5"/>
<ellipse cx="1439.4" cy="398.42" rx="6.899999999999977" ry="3.7200000000000046" fill="#fff" stroke="#111" stroke-width="1.4"/>
<ellipse cx="1439.4" cy="398.42" rx="4.277999999999986" ry="2.232000000000003" fill="none" stroke="#555" stroke-width="1"/>
<ellipse cx="1439.4" cy="398.42" rx="2.414999999999992" ry="1.3020000000000016" fill="#fff" stroke="#111" stroke-width="1.1"/>
<path d="M1434,410.13599999999997 A5.399999999999977,2.435999999999997 0 0 1 1444.8,410.13599999999997 L1444.8,413.964 A5.399999999999977,2.435999999999997 0 0 1 1434,413.964 Z" fill="#fff" stroke="#111" stroke-width="1.5"/>
<ellipse cx="1439.4" cy="410.13599999999997" rx="5.399999999999977" ry="2.435999999999997" fill="#fff" stroke="#111" stroke-width="1.4"/>
<ellipse cx="1439.4" cy="410.13599999999997" rx="2.9699999999999878" ry="1.3397999999999983" fill="#888" stroke="#111" stroke-width="1.1"/>
<path d="M1436.7,412.3284 V415.9 M1442.1000000000001,412.3284 V415.9" stroke="#111" stroke-width="1.2"/>
<g transform="rotate(-30 1466 446)">
<path d="M1456,440 L1466,440 L1466,452 L1456,452 Z" class="pt"/>
<path d="M1466,442.5 L1481,442.5 L1481,449.5 L1466,449.5 Z" class="pt"/>
<path d="M1469,442.5 V449.5 M1472,442.5 V449.5 M1475,442.5 V449.5 M1478,442.5 V449.5" class="th"/>
</g>
<ellipse cx="1270" cy="427" rx="5.5" ry="7" class="pt" transform="rotate(-25 1270 427)"/>
<ellipse cx="1270.5" cy="427" rx="2.3" ry="3" class="th" transform="rotate(-25 1270.5 427)"/>
<path d="M1076.3,330.7 L1262.4,435.3 L1266.9,451.6 L1266.9,467.3 L1081.6,364.2 L1081.6,352.3 Z" class="pt"/>
<path d="M1077.5,333 L1262.4,437.5" class="pn"/>
<path d="M1083,351.7 L1262.4,447.2" class="gn"/>
<ellipse cx="1085" cy="344" rx="1.8" ry="2" class="th"/>
<ellipse cx="1253" cy="436" rx="1.8" ry="2" class="th"/>
<path d="M1408,562.52 A5.850000000000023,2.5200000000000005 0 0 1 1419.7,562.52 L1419.7,566.48 A5.850000000000023,2.5200000000000005 0 0 1 1408,566.48 Z" fill="#fff" stroke="#111" stroke-width="1.5"/>
<ellipse cx="1413.85" cy="562.52" rx="5.850000000000023" ry="2.5200000000000005" fill="#fff" stroke="#111" stroke-width="1.4"/>
<ellipse cx="1413.85" cy="562.52" rx="3.2175000000000127" ry="1.3860000000000003" fill="#888" stroke="#111" stroke-width="1.1"/>
<path d="M1410.925,564.788 V568.5 M1416.7749999999999,564.788 V568.5" stroke="#111" stroke-width="1.2"/>
<path d="M1408,577.8 A5.850000000000023,2.8000000000000003 0 0 1 1419.7,577.8 L1419.7,579.2 A5.850000000000023,2.8000000000000003 0 0 1 1408,579.2 Z" fill="#fff" stroke="#111" stroke-width="1.5"/>
<ellipse cx="1413.85" cy="577.8" rx="5.850000000000023" ry="2.8000000000000003" fill="#fff" stroke="#111" stroke-width="1.4"/>
<ellipse cx="1413.85" cy="577.8" rx="3.627000000000014" ry="1.6800000000000002" fill="none" stroke="#555" stroke-width="1"/>
<ellipse cx="1413.85" cy="577.8" rx="2.047500000000008" ry="0.98" fill="#fff" stroke="#111" stroke-width="1.1"/>
<path d="M1387.5,605.5 A26,15 0 0 0 1439.5,605.5 L1439.5,617.5 A26,15 0 0 1 1387.5,617.5 Z" class="pt"/>
<path d="M1389.0,611.5 A24.5,14 0 0 0 1438.0,611.5" class="gn"/>
<path d="M1387.5,617.5 A26,15 0 0 0 1439.5,617.5" class="gn"/>
<ellipse cx="1413.5" cy="605.5" rx="26" ry="15" class="pt"/>
<ellipse cx="1413.5" cy="605.5" rx="24.4" ry="13.8" class="th"/>
<line x1="1426.5" y1="607.8" x2="1436.4" y2="609.5" stroke="#222" stroke-width="3"/>
<line x1="1426.5" y1="607.8" x2="1436.4" y2="609.5" stroke="#999" stroke-width="1"/>
<line x1="1413.7" y1="613.3" x2="1413.8" y2="619.0" stroke="#222" stroke-width="3"/>
<line x1="1413.7" y1="613.3" x2="1413.8" y2="619.0" stroke="#999" stroke-width="1"/>
<line x1="1400.6" y1="608.0" x2="1390.8" y2="609.9" stroke="#222" stroke-width="3"/>
<line x1="1400.6" y1="608.0" x2="1390.8" y2="609.9" stroke="#999" stroke-width="1"/>
<line x1="1405.4" y1="599.2" x2="1399.1" y2="594.7" stroke="#222" stroke-width="3"/>
<line x1="1405.4" y1="599.2" x2="1399.1" y2="594.7" stroke="#999" stroke-width="1"/>
<line x1="1421.3" y1="599.1" x2="1427.3" y2="594.5" stroke="#222" stroke-width="3"/>
<line x1="1421.3" y1="599.1" x2="1427.3" y2="594.5" stroke="#999" stroke-width="1"/>
<ellipse cx="1413.5" cy="606.5" rx="14.3" ry="8.25" class="pt"/>
<ellipse cx="1413.5" cy="606.5" rx="10.725000000000001" ry="6.1875" class="th"/>
<ellipse cx="1413.5" cy="606.5" rx="6.4350000000000005" ry="3.7125" class="th"/>
<ellipse cx="1413.5" cy="606.5" rx="3.2175000000000002" ry="1.85625" class="th"/>
<path d="M1407.4,646.2 L1407.4,663.6 A6.149999999999977,2.5 0 0 0 1419.7,663.6 L1419.7,646.2 Z" class="pt"/>
<path d="M1408.7530000000002,636.2 L1408.7530000000002,645.2 A4.796999999999983,2 0 0 0 1418.3470000000002,645.2 L1418.3470000000002,636.2 Z" class="pt"/>
<ellipse cx="1413.5500000000002" cy="636.2" rx="4.796999999999983" ry="2" class="pt"/>
<path d="M1407.4,646.2 A6.149999999999977,2.5 0 0 0 1419.7,646.2" class="pn"/>
<path d="M1389,672 L1398,667 L1432,683 L1432,672 L1441,668 L1442.7,685 L1434,691.7 L1389,678 Z" class="gy"/>
<path d="M1398,667 L1432,683 M1389,672 L1433,688" class="gn"/>
<path d="M1396,671 h4 v4 h-4 Z" class="gn"/>
<ellipse cx="1412" cy="678" rx="1.5" ry="1" class="gn"/>
<path d="M1408,693.72 A5.850000000000023,2.719999999999982 0 0 1 1419.7,693.72 L1419.7,695.0799999999999 A5.850000000000023,2.719999999999982 0 0 1 1408,695.0799999999999 Z" fill="#fff" stroke="#111" stroke-width="1.5"/>
<ellipse cx="1413.85" cy="693.72" rx="5.850000000000023" ry="2.719999999999982" fill="#fff" stroke="#111" stroke-width="1.4"/>
<ellipse cx="1413.85" cy="693.72" rx="3.627000000000014" ry="1.6319999999999892" fill="none" stroke="#555" stroke-width="1"/>
<ellipse cx="1413.85" cy="693.72" rx="2.047500000000008" ry="0.9519999999999936" fill="#fff" stroke="#111" stroke-width="1.1"/>
<g>
<text transform="translate(890.9,179.2) scale(0.826,1)">704537</text>
<polyline points="829,174.5 887.5,174.5" class="ld"/>
<text transform="translate(891.1,196.0) scale(0.826,1)">704538</text>
<polyline points="829,189 887.5,189" class="ld"/>
<text transform="translate(888.1,216.8) scale(0.826,1)">521391</text>
<polyline points="849,211 885,211" class="ld"/>
<text transform="translate(888.1,259.0) scale(0.826,1)">514216 30</text>
<polyline points="827,253 886,253" class="ld"/>
<text transform="translate(887.1,274.2) scale(0.826,1)">704537</text>
<polyline points="874,267 886,267" class="ld"/>
<text transform="translate(697.9,223.0) scale(0.826,1)">704533</text>
<polyline points="667,216 693,216" class="ld"/>
<text transform="translate(698.1,245.1) scale(0.826,1)">701765(2)</text>
<polyline points="667,237 695,237" class="ld"/>
<text transform="translate(698.1,270.0) scale(0.826,1)">704533</text>
<polyline points="667,262 695,262" class="ld"/>
<text transform="translate(421.3,286.7) scale(0.826,1)">704537(3)</text>
<polyline points="486,280 510,280" class="ld"/>
<text transform="translate(729.1,292.5) scale(0.826,1)">704537</text>
<polyline points="776,287 786,287" class="ld"/>
<text transform="translate(694.6,313.6) scale(0.826,1)">701765(2)</text>
<polyline points="667,307 692,307" class="ld"/>
<rect x="531" y="335" width="54.5" height="21" class="bx"/>
<text transform="translate(536.1,352.0) scale(0.826,1)">521965</text>
<polyline points="585.5,345 606,345 606,385" class="ld"/>
<text transform="translate(697.1,361.0) scale(0.826,1)">500207</text>
<polyline points="667,356 695,356" class="ld"/>
<text transform="translate(702.6,394.8) scale(0.826,1)">701521</text>
<polyline points="749,390 756.75,390 765.5,416" class="ld"/>
<text transform="translate(840.1,395.5) scale(0.826,1)">514957</text>
<polyline points="813.25,373.75 813.25,390 828.75,390" class="ld"/>
<text transform="translate(189.0,313.2) scale(0.826,1)">702756(2)</text>
<polyline points="254,309 268.5,309 268.5,388" class="ld"/>
<text transform="translate(170.4,337.0) scale(0.826,1)">461209(2)</text>
<polyline points="236.6,333.2 251.1,333.2 251.1,379.2" class="ld"/>
<text transform="translate(383.3,382.8) scale(0.826,1)">514987</text>
<polyline points="378.6,377.5 350.3,377.5 350.3,426.3" class="ld"/>
<text transform="translate(303.9,523.8) scale(0.826,1)">521726</text>
<polyline points="287.9,518.3 302.4,518.3" class="ld"/>
<text transform="translate(411.6,598.1) scale(0.826,1)">523134(4)</text>
<polyline points="362,592.5 409.5,592.5" class="ld"/>
<text transform="translate(284.6,662.2) scale(0.826,1)">521469</text>
<polyline points="334,656 347,656" class="ld"/>
<text transform="translate(449.1,668.1) scale(0.826,1)">348988(2)</text>
<polyline points="432,663 446,663" class="ld"/>
<text transform="translate(194.6,687.9) scale(0.826,1)">321126(2)</text>
<polyline points="258,682 272,682" class="ld"/>
<text transform="translate(402.9,747.1) scale(0.826,1)">700545(2)</text>
<polyline points="395,742 400,742" class="ld"/>
<text transform="translate(395.1,828.5) scale(0.826,1)">521732</text>
<polyline points="382.5,822.5 392,822.5" class="ld"/>
<text transform="translate(64.8,886.4) scale(0.826,1)">52147630</text>
<polyline points="129,881 142.5,881 142.5,845" class="ld"/>
<text transform="translate(81.6,912.7) scale(0.826,1)">700798(2)</text>
<polyline points="148,908 165.5,908 165.5,874" class="ld"/>
<text transform="translate(84.1,944.4) scale(0.826,1)">700483(2)</text>
<polyline points="60.5,841 60.5,939 81,939" class="ld"/>
<text transform="translate(395.1,964.8) scale(0.826,1)">521733</text>
<polyline points="383.75,959.5 395,959.5" class="ld"/>
<text transform="translate(395.1,1005.1) scale(0.826,1)">700959(4)</text>
<polyline points="384,1000 393,1000" class="ld"/>
<text transform="translate(395.1,1027.8) scale(0.826,1)">701138(4)</text>
<polyline points="380,1020 393,1020" class="ld"/>
<text transform="translate(319.9,1019.5) scale(0.826,1)">521475</text>
<polyline points="292,1013.5 316,1013.5" class="ld"/>
<text transform="translate(319.9,1071.8) scale(0.826,1)">700483(2)</text>
<polyline points="302.5,1065 316,1065" class="ld"/>
<text transform="translate(763.1,610.5) scale(0.826,1)">704546</text>
<polyline points="812,604.5 858,604.5" class="ld"/>
<text transform="translate(999.1,496.0) scale(0.826,1)">701011</text>
<polyline points="990,489 998,489" class="ld"/>
<text transform="translate(926.1,526.0) scale(0.826,1)">701011</text>
<polyline points="917,519 925,519" class="ld"/>
<text transform="translate(941.6,549.2) scale(0.826,1)">348988</text>
<polyline points="898,543 938,543" class="ld"/>
<text transform="translate(941.6,569.1) scale(0.826,1)">701765(2)</text>
<polyline points="900,562 938,562" class="ld"/>
<text transform="translate(941.6,592.0) scale(0.826,1)">348988</text>
<polyline points="898,584 938,584" class="ld"/>
<text transform="translate(941.6,630.5) scale(0.826,1)">514398</text>
<polyline points="896,624.5 937.5,624.5" class="ld"/>
<text transform="translate(1151.6,654.2) scale(0.826,1)">702477</text>
<polyline points="1082,648.5 1148,648.5" class="ld"/>
<text transform="translate(1222.8,713.5) scale(0.826,1)">522087</text>
<polyline points="1193,770 1193,707 1219,707" class="ld"/>
<text transform="translate(910.1,758.5) scale(0.826,1)">348988</text>
<polyline points="865,752 906,752" class="ld"/>
<text transform="translate(988.6,767.5) scale(0.826,1)">704537</text>
<polyline points="1037,762 1085,762" class="lg"/>
<text transform="translate(748.1,821.1) scale(0.826,1)">700551(3)</text>
<polyline points="735,815 747,815" class="ld"/>
<text transform="translate(491.1,851.5) scale(0.826,1)">514943</text>
<polyline points="539,844.5 627,844.5" class="ld"/>
<text transform="translate(503.1,884.5) scale(0.826,1)">514857 30</text>
<polyline points="570,877.5 650.5,877.5" class="ld"/>
<rect x="514" y="921" width="56" height="23.5" class="bx"/>
<text transform="translate(519.6,939.8) scale(0.826,1)">514876</text>
<polyline points="570,933.5 648,933.5" class="ld"/>
<text transform="translate(522.6,1028.5) scale(0.826,1)">514944</text>
<polyline points="571,1020 668,1020" class="ld"/>
<text transform="translate(503.1,1085.0) scale(0.826,1)">514948 30</text>
<polyline points="570.5,1079 617,1079" class="ld"/>
<text transform="translate(803.9,1062.0) scale(0.826,1)">704537(3)</text>
<polyline points="761,1055 800,1055" class="ld"/>
<text transform="translate(803.9,1121.0) scale(0.826,1)">700150(3)</text>
<polyline points="761,1115.5 801,1115.5" class="ld"/>
<text transform="translate(803.9,1150.6) scale(0.826,1)">704546(3)</text>
<polyline points="761,1145 801,1145" class="ld"/>
<rect x="844" y="868" width="59" height="24.5" class="bx"/>
<text transform="translate(849.6,887.2) scale(0.826,1)">514070</text>
<polyline points="903,881 936.25,881 936.25,920" class="ld"/>
<text transform="translate(969.9,815.0) scale(0.826,1)">514804 30</text>
<polyline points="1037,809.5 1082,809.5" class="ld"/>
<text transform="translate(1221.6,831.2) scale(0.826,1)">521096 30</text>
<polyline points="1178.75,827.5 1218.75,827.5" class="ld"/>
<text transform="translate(1221.6,909.1) scale(0.826,1)">514717</text>
<polyline points="1194,903 1218,903" class="ld"/>
<text transform="translate(1221.6,957.2) scale(0.826,1)">700148</text>
<polyline points="1165,951 1218,951" class="ld"/>
<text transform="translate(1221.6,979.8) scale(0.826,1)">523134</text>
<polyline points="1163,973 1218,973" class="ld"/>
<text transform="translate(930.4,994.8) scale(0.826,1)">514716</text>
<polyline points="979,989 1010,989" class="ld"/>
<text transform="translate(1167.1,1029.8) scale(0.826,1)">700656</text>
<polyline points="1106,1023.5 1165,1023.5" class="ld"/>
<text transform="translate(929.9,1051.4) scale(0.826,1)">700148</text>
<polyline points="979,1043.5 1038,1043.5" class="ld"/>
<text transform="translate(1167.1,1063.5) scale(0.826,1)">701083 10</text>
<polyline points="1106,1057 1165,1057" class="ld"/>
<text transform="translate(929.9,1072.3) scale(0.826,1)">523134</text>
<polyline points="979,1064.6 1042.8,1064.6" class="ld"/>
<text transform="translate(929.9,1106.0) scale(0.826,1)">701171</text>
<polyline points="979,1099.5 1091,1099.5" class="ld"/>
<text transform="translate(1323.8,284.6) scale(0.826,1)">704138 (2)</text>
<polyline points="1391,279 1406.5,279 1437,296" class="ld"/>
<text transform="translate(1569.5,296.6) scale(0.826,1)">521272 01</text>
<polyline points="1523,306.7 1552,291.4 1567,291.4" class="ld"/>
<text transform="translate(1627.8,375.5) scale(0.826,1)">704536(2)</text>
<polyline points="1604,369 1625,369" class="ld"/>
<text transform="translate(1321.1,385.1) scale(0.826,1)">700137 (2)</text>
<polyline points="1389,380 1402,380 1437,399" class="ld"/>
<text transform="translate(1321.1,405.8) scale(0.826,1)">704536 (2)</text>
<polyline points="1389,400 1402,400 1438,412" class="ld"/>
<text transform="translate(1617.1,409.6) scale(0.826,1)">700148(2)</text>
<polyline points="1579.6,378.7 1579.6,405.4 1613,405.4" class="ld"/>
<text transform="translate(1576.1,444.2) scale(0.826,1)">514950 01</text>
<polyline points="1532,434.5 1573,434.5" class="ld"/>
<text transform="translate(1333.6,464.1) scale(0.826,1)">704538 (2)</text>
<polyline points="1270,427.8 1310,457 1331,457" class="ld"/>
<text transform="translate(1330.5,480.7) scale(0.826,1)">521195</text>
<polyline points="1264,434 1313,473.7 1328,473.7" class="ld"/>
<text transform="translate(1508.1,491.6) scale(0.826,1)">700573(2)</text>
<polyline points="1463,449 1463,484.4 1501.5,484.4" class="ld"/>
<text transform="translate(1460.1,560.2) scale(0.826,1)">704537</text>
<polyline points="1419,561.4 1435,552.7 1457.2,552.7" class="ld"/>
<text transform="translate(1460.1,583.5) scale(0.826,1)">704538</text>
<polyline points="1420,580 1457,580" class="ld"/>
<text transform="translate(1460.1,621.5) scale(0.826,1)">521391</text>
<polyline points="1440.4,616.6 1457.2,616.6" class="ld"/>
<text transform="translate(1460.1,658.6) scale(0.826,1)">514216 30</text>
<polyline points="1419.7,651.4 1457.2,651.4" class="ld"/>
<text transform="translate(1460.1,687.7) scale(0.826,1)">514394</text>
<polyline points="1442.7,679 1457.2,679" class="ld"/>
<text transform="translate(1460.1,713.7) scale(0.826,1)">701765</text>
<polyline points="1419,696.3 1439.6,707.5 1457.2,707.5" class="ld"/>
</g>
</svg></body></html>
